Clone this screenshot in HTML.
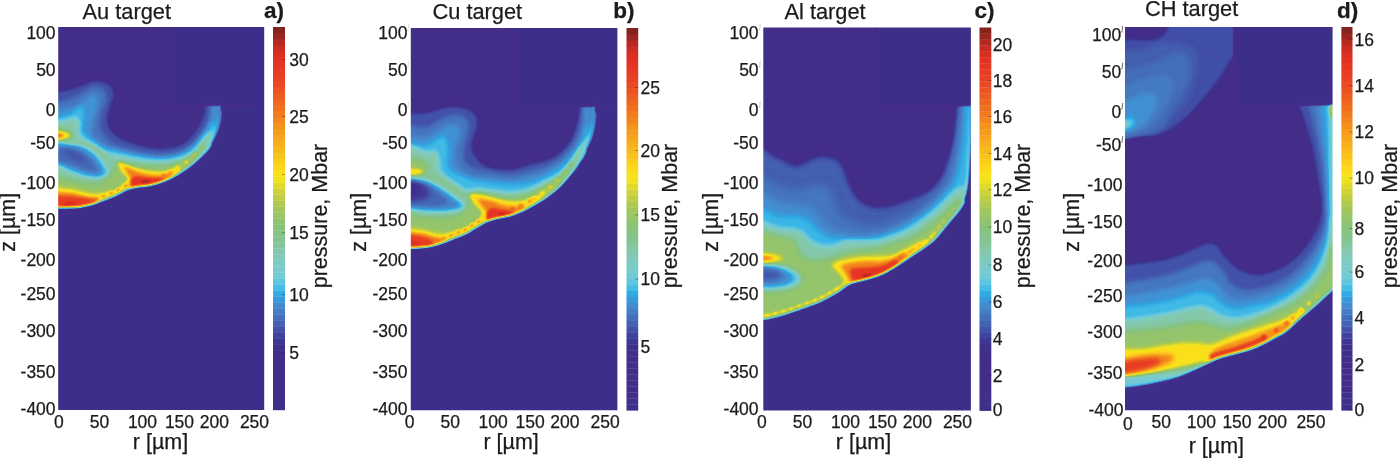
<!DOCTYPE html>
<html><head><meta charset="utf-8"><title>pressure maps</title>
<style>html,body{margin:0;padding:0;background:#fff}svg{display:block}text{font-family:'Liberation Sans',sans-serif;fill:#1d1a1b;stroke:#1d1a1b;stroke-width:0.25px}</style></head><body>
<svg width="1400" height="458" viewBox="0 0 1400 458">
<defs><filter id="cmapf" x="0" y="0" width="100%" height="100%" color-interpolation-filters="sRGB"><feComponentTransfer><feFuncR type="table" tableValues="0.243 0.245 0.247 0.249 0.250 0.252 0.254 0.256 0.259 0.261 0.264 0.266 0.269 0.270 0.267 0.265 0.262 0.259 0.256 0.253 0.248 0.243 0.247 0.250 0.252 0.254 0.256 0.258 0.261 0.266 0.267 0.267 0.271 0.274 0.271 0.267 0.245 0.220 0.191 0.192 0.225 0.275 0.334 0.378 0.418 0.447 0.467 0.476 0.485 0.493 0.500 0.507 0.514 0.518 0.518 0.518 0.518 0.519 0.522 0.525 0.528 0.535 0.546 0.562 0.578 0.596 0.619 0.641 0.664 0.689 0.717 0.744 0.772 0.805 0.844 0.882 0.917 0.947 0.969 0.983 0.988 0.988 0.987 0.985 0.983 0.981 0.978 0.975 0.973 0.970 0.968 0.966 0.965 0.963 0.962 0.959 0.956 0.952 0.949 0.946 0.943 0.940 0.938 0.936 0.934 0.932 0.929 0.926 0.923 0.920 0.918 0.915 0.912 0.910 0.906 0.902 0.898 0.892 0.876 0.860 0.844 0.803 0.761 0.713 0.662 0.613 0.571 0.528 0.490"/><feFuncG type="table" tableValues="0.184 0.184 0.183 0.182 0.182 0.181 0.181 0.180 0.179 0.179 0.178 0.178 0.177 0.177 0.178 0.179 0.181 0.182 0.184 0.185 0.187 0.188 0.200 0.212 0.236 0.265 0.293 0.322 0.353 0.386 0.415 0.443 0.468 0.494 0.520 0.547 0.575 0.604 0.635 0.671 0.712 0.743 0.769 0.778 0.786 0.792 0.797 0.798 0.799 0.799 0.797 0.795 0.793 0.790 0.785 0.780 0.775 0.772 0.770 0.768 0.766 0.765 0.765 0.768 0.771 0.774 0.777 0.780 0.783 0.789 0.799 0.809 0.819 0.831 0.843 0.856 0.871 0.887 0.891 0.885 0.869 0.849 0.828 0.808 0.788 0.767 0.747 0.727 0.707 0.687 0.667 0.650 0.632 0.614 0.596 0.575 0.549 0.525 0.504 0.484 0.463 0.443 0.423 0.404 0.384 0.364 0.343 0.323 0.303 0.287 0.274 0.261 0.248 0.236 0.225 0.215 0.205 0.195 0.189 0.183 0.177 0.172 0.167 0.160 0.154 0.147 0.142 0.137 0.133"/><feFuncB type="table" tableValues="0.541 0.541 0.541 0.541 0.541 0.541 0.541 0.541 0.540 0.540 0.539 0.538 0.538 0.537 0.538 0.539 0.539 0.540 0.541 0.542 0.543 0.545 0.561 0.576 0.597 0.620 0.640 0.659 0.680 0.702 0.719 0.736 0.754 0.772 0.791 0.810 0.834 0.856 0.876 0.892 0.906 0.900 0.886 0.868 0.851 0.833 0.818 0.804 0.791 0.774 0.753 0.732 0.711 0.686 0.657 0.627 0.597 0.571 0.548 0.526 0.503 0.485 0.470 0.448 0.426 0.404 0.384 0.364 0.343 0.320 0.296 0.271 0.246 0.221 0.196 0.170 0.147 0.127 0.112 0.102 0.098 0.098 0.100 0.103 0.106 0.109 0.110 0.110 0.110 0.110 0.110 0.110 0.110 0.110 0.110 0.110 0.110 0.110 0.112 0.114 0.116 0.119 0.122 0.125 0.128 0.130 0.132 0.134 0.136 0.137 0.137 0.137 0.137 0.137 0.137 0.137 0.137 0.137 0.137 0.137 0.137 0.137 0.137 0.134 0.129 0.124 0.121 0.118 0.118"/></feComponentTransfer></filter></defs>
<rect width="1400" height="458" fill="#fff"/>
<defs>
<clipPath id="a_clip"><rect x="58.2" y="27" width="206" height="382.9"/></clipPath>
<filter id="a_b0_8" x="-50%" y="-50%" width="200%" height="200%" color-interpolation-filters="sRGB"><feGaussianBlur stdDeviation="0.8"/></filter>
<filter id="a_b0_9" x="-50%" y="-50%" width="200%" height="200%" color-interpolation-filters="sRGB"><feGaussianBlur stdDeviation="0.9"/></filter>
<filter id="a_b2_3" x="-50%" y="-50%" width="200%" height="200%" color-interpolation-filters="sRGB"><feGaussianBlur stdDeviation="2.3"/></filter>
<filter id="a_b2_1" x="-50%" y="-50%" width="200%" height="200%" color-interpolation-filters="sRGB"><feGaussianBlur stdDeviation="2.1"/></filter>
<filter id="a_b2_0" x="-50%" y="-50%" width="200%" height="200%" color-interpolation-filters="sRGB"><feGaussianBlur stdDeviation="2"/></filter>
<filter id="a_b2_2" x="-50%" y="-50%" width="200%" height="200%" color-interpolation-filters="sRGB"><feGaussianBlur stdDeviation="2.2"/></filter>
<filter id="a_b2_5" x="-50%" y="-50%" width="200%" height="200%" color-interpolation-filters="sRGB"><feGaussianBlur stdDeviation="2.5"/></filter>
<filter id="a_b1_8" x="-50%" y="-50%" width="200%" height="200%" color-interpolation-filters="sRGB"><feGaussianBlur stdDeviation="1.8"/></filter>
<filter id="a_b1_4" x="-50%" y="-50%" width="200%" height="200%" color-interpolation-filters="sRGB"><feGaussianBlur stdDeviation="1.4"/></filter>
<filter id="a_b1_7" x="-50%" y="-50%" width="200%" height="200%" color-interpolation-filters="sRGB"><feGaussianBlur stdDeviation="1.7"/></filter>
<filter id="a_b1_6" x="-50%" y="-50%" width="200%" height="200%" color-interpolation-filters="sRGB"><feGaussianBlur stdDeviation="1.6"/></filter>
<filter id="a_b1_5" x="-50%" y="-50%" width="200%" height="200%" color-interpolation-filters="sRGB"><feGaussianBlur stdDeviation="1.5"/></filter>
<filter id="a_b1_3" x="-50%" y="-50%" width="200%" height="200%" color-interpolation-filters="sRGB"><feGaussianBlur stdDeviation="1.3"/></filter>
<filter id="a_b1_0" x="-50%" y="-50%" width="200%" height="200%" color-interpolation-filters="sRGB"><feGaussianBlur stdDeviation="1"/></filter>
<filter id="a_b1_2" x="-50%" y="-50%" width="200%" height="200%" color-interpolation-filters="sRGB"><feGaussianBlur stdDeviation="1.2"/></filter>
<filter id="a_ms" filterUnits="userSpaceOnUse" x="38.2" y="7" width="246" height="422.9" color-interpolation-filters="sRGB"><feGaussianBlur stdDeviation="0.8"/></filter>
<mask id="a_mask" maskUnits="userSpaceOnUse" x="48.2" y="17" width="226" height="402.9"><path d="M46,20L46,207L48.5,207L51,207L53.5,206.9L56,206.9L58.5,206.9L61,206.9L63.5,206.9L66,206.9L68.5,206.9L71,206.8L73.5,206.8L76,206.6L78.5,206.4L80.9,206.1L83.4,205.6L85.8,205.1L88.3,204.5L90.7,203.9L93.1,203.2L95.5,202.4L97.8,201.6L100.2,200.7L102.5,199.8L104.8,198.9L107.2,198L109.5,197.1L111.8,196.2L114.1,195.3L116.4,194.3L118.6,193.1L120.8,191.9L123,190.7L125.2,189.5L127.5,188.6L129.9,187.7L132.3,187.1L134.7,186.5L137.2,186.1L139.7,185.8L142.2,185.5L144.6,185.3L147.1,185.1L149.6,184.6L152,184.1L154.4,183.4L156.8,182.7L159.2,181.9L161.5,181L163.9,180.2L166.2,179.4L168.5,178.4L170.8,177.3L173,176.1L175.2,174.9L177.4,173.7L179.5,172.4L181.6,171.1L183.7,169.7L185.8,168.3L187.8,166.8L189.8,165.3L191.8,163.8L193.7,162.2L195.6,160.6L197.5,158.9L199.3,157.2L201.1,155.5L202.8,153.7L204.6,151.9L206.2,150L207.8,148.1L209.2,146L210.5,143.9L211.7,141.7L213,139.5L214.1,137.3L215.1,135L216.2,132.7L217.2,130.5L218.1,128.1L218.8,125.8L219.4,123.3L219.9,120.9L220.4,118.4L220.7,115.9L221,113.5L221.2,111L221.4,108.5L221.5,106L221.7,103.5L221.7,101L221.6,98.5L221.6,96L221.6,104.9L170,104.9L170,20Z" fill="#fff" stroke="#fff" stroke-width="0.6" stroke-linejoin="round" filter="url(#a_ms)"/></mask>
<linearGradient id="a_g1" gradientUnits="userSpaceOnUse" x1="46" y1="207" x2="221.6" y2="96"><stop offset="0.0000" stop-color="rgb(161,161,161)"/><stop offset="0.5492" stop-color="rgb(161,161,161)"/><stop offset="0.5908" stop-color="rgb(148,148,148)"/><stop offset="0.6463" stop-color="rgb(138,138,138)"/><stop offset="0.7057" stop-color="rgb(128,128,128)"/><stop offset="0.7630" stop-color="rgb(117,117,117)"/><stop offset="0.8116" stop-color="rgb(105,105,105)"/><stop offset="0.8506" stop-color="rgb(92,92,92)"/><stop offset="0.9035" stop-color="rgb(79,79,79)"/><stop offset="0.9418" stop-color="rgb(71,71,71)"/><stop offset="1.0000" stop-color="rgb(68,68,68)"/></linearGradient>
<linearGradient id="a_g2" gradientUnits="userSpaceOnUse" x1="46" y1="207" x2="99.6" y2="200.9"><stop offset="0.0000" stop-color="rgb(196,196,196)"/><stop offset="0.2214" stop-color="rgb(196,196,196)"/><stop offset="0.5353" stop-color="rgb(196,196,196)"/><stop offset="0.7225" stop-color="rgb(196,196,196)"/><stop offset="0.8743" stop-color="rgb(196,196,196)"/><stop offset="1.0084" stop-color="rgb(191,191,191)"/></linearGradient>
<linearGradient id="a_g3" gradientUnits="userSpaceOnUse" x1="46" y1="207" x2="96.7" y2="202"><stop offset="0.0000" stop-color="rgb(224,224,224)"/><stop offset="0.2345" stop-color="rgb(224,224,224)"/><stop offset="0.5668" stop-color="rgb(224,224,224)"/><stop offset="0.7647" stop-color="rgb(224,224,224)"/><stop offset="0.9048" stop-color="rgb(222,222,222)"/><stop offset="1.0055" stop-color="rgb(217,217,217)"/></linearGradient>
</defs>
<g clip-path="url(#a_clip)"><g filter="url(#cmapf)">
<rect x="50.2" y="19" width="222" height="398.9" fill="#000"/>
<path d="M204.6,151.9L206.2,150L207.8,148.1L209.2,146L210.5,143.9L211.7,141.7L213,139.5L214.1,137.3L215.1,135L216.2,132.7L217.2,130.5L218.1,128.1L218.8,125.8L219.4,123.3L219.9,120.9L220.4,118.4L220.7,115.9L221,113.5L221.2,111" fill="none" stroke="rgb(57,57,57)" stroke-width="4.2" stroke-linecap="butt" filter="url(#a_b0_9)"/>
<path d="M46,207L48.5,207L51,207L53.5,206.9L56,206.9L58.5,206.9L61,206.9L63.5,206.9L66,206.9L68.5,206.9L71,206.8L73.5,206.8L76,206.6L78.5,206.4L80.9,206.1L83.4,205.6L85.8,205.1L88.3,204.5L90.7,203.9L93.1,203.2L95.5,202.4L97.8,201.6L100.2,200.7L102.5,199.8L104.8,198.9L107.2,198L109.5,197.1L111.8,196.2L114.1,195.3L116.4,194.3L118.6,193.1L120.8,191.9L123,190.7L125.2,189.5L127.5,188.6L129.9,187.7L132.3,187.1L134.7,186.5L137.2,186.1L139.7,185.8L142.2,185.5L144.6,185.3L147.1,185.1L149.6,184.6L152,184.1L154.4,183.4L156.8,182.7L159.2,181.9L161.5,181L163.9,180.2L166.2,179.4L168.5,178.4L170.8,177.3L173,176.1L175.2,174.9L177.4,173.7L179.5,172.4L181.6,171.1L183.7,169.7L185.8,168.3L187.8,166.8L189.8,165.3L191.8,163.8L193.7,162.2L195.6,160.6L197.5,158.9L199.3,157.2L201.1,155.5L202.8,153.7L204.6,151.9L206.2,150L207.8,148.1L209.2,146L210.5,143.9" fill="none" stroke="rgb(76,76,76)" stroke-width="4.6" stroke-linecap="butt" filter="url(#a_b0_8)"/>
<g mask="url(#a_mask)">
<path d="M40,10L170,10L170,105L270,105L270,420L40,420Z" fill="rgb(17,17,17)"/>
<path d="M44,90C46.3,68.3 52.9,90.7 58,90C63.1,89.3 69.6,87.6 74.6,86.1C79.5,84.6 83.8,82.1 87.7,80.9C91.6,79.7 94.2,78.4 98.2,78.9C102.2,79.4 108.5,81.4 111.5,84C114.5,86.6 115.9,90.6 116,94.6C116.1,98.5 113.1,103.8 112,107.7C110.9,111.6 109.8,115.2 109.5,118.2C109.2,121.2 109.8,123.9 110.5,126C111.2,128.1 112.5,129.4 114,131C115.5,132.6 116.6,133.9 119.5,135.5C122.4,137.1 127.1,139 131.2,140.5C135.3,142 139.9,143.4 144.3,144.4C148.7,145.4 153,146.2 157.4,146.4C161.8,146.6 166.3,146.5 170.5,145.7C174.7,144.9 179.4,143.2 182.6,141.4C185.8,139.6 187.5,137.4 189.8,134.8C192.1,132.2 194.5,128.7 196.2,126C197.9,123.3 198.9,121.2 200,118.5C201.1,115.8 202,113.1 202.7,110C203.4,106.9 200.6,101.7 204,100C207.4,98.3 220.1,97 223.3,100C226.5,103 223.7,113 223.3,118C222.9,123 220.9,123.7 221,130C221.1,136.3 229.2,147 224,156C218.8,165 202.3,176.8 190,184C177.7,191.2 161.7,195 150,199C138.3,203 130,204.8 120,208C110,211.2 102.7,216 90,218C77.3,220 51.7,241.3 44,220C36.3,198.7 41.7,111.7 44,90Z" fill="rgb(54,54,54)" filter="url(#a_b2_3)"/>
<path d="M44,102.5C46.3,82.9 52.9,103.4 58,102.5C63.1,101.6 69.6,99.5 74.6,97.3C79.5,95.1 84,91.2 87.7,89.4C91.4,87.7 94.1,86.4 96.9,86.8C99.7,87.2 103.2,89.6 104.7,92C106.2,94.4 106.7,97.5 106,101.2C105.3,104.9 101.9,109.9 100.8,114.3C99.7,118.7 99.1,124 99.5,127.4C99.9,130.8 101.7,132.6 103.4,135C105.2,137.4 107.5,140.3 110,142C112.5,143.7 114.6,144.1 118.1,145.3C121.6,146.5 126.8,147.9 131.2,149C135.6,150.1 139.9,151.2 144.3,152C148.7,152.8 153,153.4 157.4,153.6C161.8,153.8 166.1,153.8 170.5,153C174.9,152.2 179.7,151 183.6,149C187.5,147 190.9,144 194,141.2C197.1,138.4 199.7,135.1 201.9,132C204.1,128.9 205.8,126.2 207.1,122.9C208.4,119.6 208.9,115.8 209.5,112C210.1,108.2 208.8,102 210.5,100C212.2,98 218.4,97 220,100C221.6,103 220.5,113 220.3,118C220.1,123 218.4,123.7 219,130C219.6,136.3 228.8,147 224,156C219.2,165 202.3,176.8 190,184C177.7,191.2 161.7,195 150,199C138.3,203 130,204.8 120,208C110,211.2 102.7,216 90,218C77.3,220 51.7,239.2 44,220C36.3,200.8 41.7,122.1 44,102.5Z" fill="rgb(64,64,64)" filter="url(#a_b2_3)"/>
<path d="M44,110.3C46.3,92 52.9,110.9 58,110.3C63.1,109.7 70.3,108.1 74.6,106.4C78.9,104.7 80.7,101.9 83.8,99.9C86.9,97.9 90.6,94.8 93,94.6C95.4,94.4 97.5,96.2 98.2,98.6C98.9,101 97.8,105.3 96.9,109C96,112.7 93.9,116.8 93,120.8C92.1,124.8 91.1,129.9 91.6,133C92.1,136.1 93.4,137.2 96,139.5C98.6,141.8 103.7,145 107.4,146.7C111.1,148.4 114.1,148.6 118.1,149.6C122.1,150.6 126.8,151.9 131.2,152.9C135.6,153.9 139.9,154.8 144.3,155.5C148.7,156.2 153,156.7 157.4,156.8C161.8,156.9 166.1,157 170.5,156.2C174.9,155.4 179.7,154.1 183.6,152.2C187.5,150.3 190.9,147.6 194,144.8C197.1,142 199.6,138.7 201.9,135.6C204.2,132.5 206.4,129.4 208,126C209.6,122.6 210.7,118.7 211.5,115C212.3,111.3 212,105.8 213,104C214,102.2 216.7,101.7 217.5,104C218.3,106.3 218.1,113.7 218,118C217.9,122.3 216,123.7 217,130C218,136.3 228.5,147 224,156C219.5,165 202.3,176.8 190,184C177.7,191.2 161.7,195 150,199C138.3,203 130,204.8 120,208C110,211.2 102.7,216 90,218C77.3,220 51.7,237.9 44,220C36.3,202.1 41.7,128.6 44,110.3Z" fill="rgb(72,72,72)" filter="url(#a_b2_1)"/>
<path d="M44,116.9C46.3,99.7 54,117.3 58,116.9C62,116.5 64.7,115.8 68.1,114.3C71.5,112.8 76.1,109 78.6,107.7C81.1,106.4 82.1,104.9 83.1,106.4C84.1,107.9 84.4,113.5 84.5,116.9C84.6,120.3 83.4,124.3 83.5,127C83.6,129.7 83.3,130.8 85.1,133.1C86.9,135.4 91,138.5 94.3,140.9C97.6,143.3 101,146 105,147.7C109,149.4 113.7,149.9 118.1,151C122.5,152.1 126.8,153.3 131.2,154.3C135.6,155.3 139.9,156.2 144.3,156.9C148.7,157.6 153,158.1 157.4,158.2C161.8,158.3 166.1,158.4 170.5,157.6C174.9,156.8 179.7,155.5 183.6,153.6C187.5,151.7 190.9,149.1 194,146.4C197.1,143.7 199.5,140.4 201.9,137.3C204.3,134.2 206.8,130.7 208.5,128.1C210.2,125.5 211,122.7 212,121.5C213,120.3 213.8,120.1 214.5,121C215.2,121.9 215.8,124.8 216,127C216.2,129.2 214.7,129.2 216,134C217.3,138.8 228.3,147.7 224,156C219.7,164.3 202.3,176.8 190,184C177.7,191.2 161.7,195 150,199C138.3,203 130,204.8 120,208C110,211.2 102.7,216 90,218C77.3,220 51.7,236.8 44,220C36.3,203.2 41.7,134.1 44,116.9Z" fill="rgb(81,81,81)" filter="url(#a_b2_0)"/>
<path d="M44,122.1C46.3,105.8 54,122.4 58,122.1C62,121.8 65.1,120.8 68.1,120.2C71.1,119.6 74.3,117.6 76,118.2C77.7,118.8 78.2,121.7 78.5,124C78.8,126.3 77.4,129.6 78,132C78.6,134.4 80,136.6 82,138.5C84,140.4 87,141.6 90,143.5C93,145.4 97.5,148.4 100,150C102.5,151.6 102,152 105,153C108,154 113.7,154.9 118.1,155.8C122.5,156.7 126.8,157.4 131.2,158.2C135.6,158.9 139.9,159.8 144.3,160.3C148.7,160.9 153,161.4 157.4,161.5C161.8,161.6 166.1,161.5 170.5,160.8C174.9,160.2 179.7,159.1 183.6,157.6C187.5,156.1 190.9,154.2 194,151.7C197.1,149.2 199.9,145 201.9,142.5C203.9,140 204.2,137.8 206,136.5C207.8,135.2 210,131.2 213,134.5C216,137.8 227.8,147.8 224,156C220.2,164.2 202.3,176.8 190,184C177.7,191.2 161.7,195 150,199C138.3,203 130,204.8 120,208C110,211.2 102.7,216 90,218C77.3,220 51.7,236 44,220C36.3,204 41.7,138.4 44,122.1Z" fill="rgb(107,107,107)" filter="url(#a_b2_2)"/>
<path d="M44,176.5C46.3,169.2 52.9,175.8 58,176.5C63.1,177.2 68.5,179.4 74.6,180.5C80.6,181.6 89.2,183.1 94.3,183C99.4,182.9 102,181.8 105,180C108,178.2 110.2,174.7 112,172C113.8,169.3 114.3,165.8 116,164C117.7,162.2 119.5,161.6 122,161.5C124.5,161.4 127.3,162.8 131,163.5C134.7,164.2 139.9,165.2 144.3,165.5C148.7,165.8 153,165.6 157.4,165.4C161.8,165.2 166.1,165.1 170.5,164.3C174.9,163.5 179.7,162.4 183.6,160.8C187.5,159.2 191.1,157.2 194,155C196.9,152.8 199.2,149.7 201,147.5C202.8,145.3 203,143.2 205,142C207,140.8 209.8,137.7 213,140C216.2,142.3 227.8,148.7 224,156C220.2,163.3 202.3,176.8 190,184C177.7,191.2 161.7,195 150,199C138.3,203 130,204.8 120,208C110,211.2 102.7,216 90,218C77.3,220 51.7,226.9 44,220C36.3,213.1 41.7,183.8 44,176.5Z" fill="rgb(128,128,128)" filter="url(#a_b2_5)"/>
<ellipse cx="57" cy="135.3" rx="17" ry="7.2" fill="rgb(128,128,128)" filter="url(#a_b2_2)"/>
<path d="M44,142.3C46.3,138.4 53.7,142.2 58,142.3C62.3,142.4 66.1,142.4 70,142.8C73.9,143.2 77.2,142.9 81.2,144.6C85.2,146.2 91,150.1 94.3,152.7C97.6,155.3 99.3,157.7 101,160C102.7,162.3 103.6,164.4 104.7,166.5C105.8,168.6 107.9,170.7 107.4,172.4C107,174.2 104.2,176.1 102,177C99.8,177.9 97.6,178 94.3,177.8C91,177.6 86,177.1 82,176C78,174.9 74,173.2 70,171.5C66,169.8 62.3,166.5 58,165.5C53.7,164.5 46.3,169.4 44,165.5C41.7,161.6 41.7,146.2 44,142.3Z" fill="rgb(81,81,81)" filter="url(#a_b1_8)"/>
<path d="M44,145.5C46.3,142.6 53.7,145.4 58,145.5C62.3,145.6 66.2,145.5 70,146C73.8,146.5 77.5,147 81,148.5C84.5,150 88.2,152.6 91,155C93.8,157.4 96.1,160.4 98,163C99.9,165.6 102.2,168.7 102.5,170.5C102.8,172.3 101.6,173.3 100,174C98.4,174.7 96,174.9 93,174.5C90,174.1 85.8,173 82,171.8C78.2,170.6 74,169 70,167.5C66,166 62.3,163.8 58,163C53.7,162.2 46.3,165.9 44,163C41.7,160.1 41.7,148.4 44,145.5Z" fill="rgb(67,67,67)" filter="url(#a_b2_0)"/>
<path d="M44,148.5C46.3,146.6 53.7,148.4 58,148.5C62.3,148.6 66.3,148.7 70,149.3C73.7,149.9 76.9,150.8 80,152.3C83.1,153.8 86.1,156.2 88.5,158.5C90.9,160.8 93.2,164 94.5,166C95.8,168 96.9,169.7 96.5,170.5C96.1,171.3 94.4,171.4 92,171C89.6,170.6 85.7,169 82,167.8C78.3,166.6 74,165 70,163.7C66,162.4 62.3,160.6 58,160C53.7,159.4 46.3,161.9 44,160C41.7,158.1 41.7,150.4 44,148.5Z" fill="rgb(59,59,59)" filter="url(#a_b2_0)"/>
<ellipse cx="74.5" cy="155.5" rx="12" ry="3.4" fill="rgb(54,54,54)" transform="rotate(30 74.5 155.5)" filter="url(#a_b2_0)"/>
<path d="M66,140.5C68.7,140.9 77.3,141.9 82,143.2C86.7,144.5 90.1,145.6 94.3,148.1C98.5,150.6 104,155.4 107.4,158C110.8,160.6 113.3,162.8 114.5,163.8" fill="none" stroke="rgb(110,110,110)" stroke-width="4.5" stroke-linecap="round" stroke-linejoin="round" filter="url(#a_b1_8)"/>
<path d="M46,213L49.1,213L52.1,213L55.1,212.9L58.1,212.9L61.1,212.9L64.1,212.9L67.2,212.9L70.2,212.8L73.4,212.8L76.6,212.6L79.9,212.3L83.2,211.8L86.4,211.1L89.5,210.4L92.6,209.6L95.7,208.7L98.7,207.7L101.7,206.6L104.5,205.5L107.3,204.4L110.2,203.3L113,202.2L116,201L111.6,190.7L108.8,191.5L105.9,192.2L102.9,192.9L99.8,193.3L96.8,193.5L93.8,193.6L90.8,193.3L87.8,192.7L84.9,192L82.1,191.1L79.5,190.6L77.1,189.9L74.8,189.1L72.4,188.6L69.8,188.4L67,188.2L64.1,187.9L61,187.7L57.9,187.4L54.9,187.4L51.9,187.5L48.9,187.5L45.9,187.5Z" fill="rgb(158,158,158)" filter="url(#a_b2_0)"/>
<path d="M46,213L49.1,213L52.1,213L55.1,212.9L58.1,212.9L61.1,212.9L64.1,212.9L67.2,212.9L70.2,212.8L73.4,212.8L76.6,212.6L79.9,212.3L83.2,211.8L86.4,211.1L89.5,210.4L92.6,209.6L95.7,208.7L98.7,207.7L101.7,206.6L104.5,205.5L107.3,204.4L110.2,203.3L113,202.2L116,201L119,199.7L121.9,198.2L124.6,196.6L127,195.3L129.3,194.3L131.8,193.4L134.2,192.7L136.8,192.2L139.6,191.9L142.4,191.5L145.4,191.3L148.7,190.9L152.1,190.2L155.3,189.4L158.4,188.5L161.5,187.5L164.3,186.4L167.2,185.4L170.3,184.2L173.4,182.7L176.1,181.2L178.9,179.7L181.6,178.1L184.3,176.5L187,174.7L189.6,172.9L192.2,171.1L194.7,169.1L197.2,167.1L199.6,165.1L201.9,163L204.2,160.8L206.5,158.6L208.7,156.2L210.9,153.7L213,151L214.9,148.2L216.5,145.4L218.1,142.6L219.6,139.7L220.9,136.9L222.2,134L223.5,130.9L224.5,127.6L225.3,124.3L226,121.1L226.5,117.9L226.9,114.7L227.2,111.6L227.4,108.5L227.6,105.3L227.7,102.1L227.7,98.9L227.6,95.9L217.6,96.1L217.7,99.1L217.7,102L217.6,104.9L217.4,107.8L217.2,110.7L216.9,113.7L216.6,116.5L216,119.3L215.3,122.1L214.5,124.7L213.6,127.3L212.4,129.7L211.1,132.3L209.8,135L208.4,137.5L206.9,139.8L205.3,142.2L203.7,144.3L201.9,146.2L199.8,148.1L197.7,149.9L195.5,151.7L193.2,153.5L190.9,155.2L188.6,156.9L186.3,158.5L184.1,160.3L181.8,161.9L179.5,163.5L177.2,165.1L174.9,166.8L172.6,168.5L170.2,170.1L167.8,171.8L165.7,173.5L163.4,175L160.6,176.2L157.8,177.3L155.1,178.2L152.4,179L149.7,179.7L147.1,180.2L144.3,180.5L141.3,180.8L138.2,181.2L135,181.6L131.7,182.2L128.5,183.1L125.3,184.3L122.2,185.6L119.4,187.2L116.8,188.7L114.3,189.9L111.8,191.1L109.1,192.1L106.3,193.2L103.5,194.3L100.7,195.4L97.9,196.5L95.1,197.5L92.4,198.4L89.7,199.2L86.9,199.9L84.1,200.6L81.3,201.1L78.6,201.5L75.8,201.8L73,202L70.1,202L67.1,202.1L64.1,202.1L61.1,202.1L58,202.1L55,202.1L52,202.2L49,202.2L46,202.2Z" fill="url(#a_g1)" filter="url(#a_b1_4)"/>
<path d="M117.6,162.3C118.2,161.1 122.5,163.5 125,164.3C127.5,165.1 129.7,166 132.9,166.9C136.1,167.8 140.6,169.2 144.4,170C148.2,170.8 152.7,171.2 155.9,171.5C159.1,171.8 161.2,171.8 163.5,171.5C165.8,171.2 167.9,170.5 170,170C172.1,169.5 174.2,168.2 176,168.6C177.8,169 182.8,169.9 181,172.5C179.2,175.1 170.2,181.1 165,184C159.8,186.9 155,188.8 150,190C145,191.2 139.3,190.7 135,191C130.7,191.3 126.1,192.8 124,192C121.9,191.2 121.9,188.3 122.5,186C123.1,183.7 127.8,180.7 127.6,178.3C127.4,175.9 123.2,174.2 121.5,171.5C119.8,168.8 117,163.5 117.6,162.3Z" fill="rgb(161,161,161)" filter="url(#a_b1_7)"/>
<path d="M46,213L49.1,213L52.1,213L55.1,212.9L58.1,212.9L61.1,212.9L64.1,212.9L67.2,212.9L70.2,212.8L73.4,212.8L76.6,212.6L79.9,212.3L83.2,211.8L86.4,211.1L89.5,210.4L92.6,209.6L95.7,208.7L98.7,207.7L101.7,206.6L98.3,197.5L95.1,197.3L92,197.1L88.9,196.7L86,196.2L83.1,195.5L80.3,195L77.7,194.4L75.2,193.5L72.6,193.1L69.9,193L67,192.8L64.1,192.5L61,192.3L58,192.1L54.9,192.1L51.9,192.2L48.9,192.2L45.9,192.2Z" fill="url(#a_g2)" filter="url(#a_b1_6)"/>
<path d="M124.9,166.9C125.3,166.2 128,168 130,168.8C132,169.6 133.8,170.6 136.8,171.5C139.8,172.4 144.4,173.9 148.2,174.5C152,175.1 156.9,175.3 159.7,175.3C162.5,175.3 163.3,174.9 165,174.5C166.7,174.1 168.3,171.8 170,172.7C171.7,173.6 178.3,177.1 175,180C171.7,182.9 157.3,188 150,190C142.7,192 134.4,192.7 131,192C127.6,191.3 129.6,188.2 129.5,186C129.4,183.8 130.9,181.3 130.6,179.1C130.3,176.9 128.4,175 127.5,173C126.5,171 124.5,167.6 124.9,166.9Z" fill="rgb(196,196,196)" filter="url(#a_b1_5)"/>
<path d="M46,213L49.1,213L52.1,213L55.1,212.9L58.1,212.9L61.1,212.9L64.1,212.9L67.2,212.9L70.2,212.8L73.4,212.8L76.6,212.6L79.9,212.3L83.2,211.8L86.4,211.1L89.5,210.4L92.6,209.6L95.7,208.7L98.7,207.7L95.9,199.5L92.7,199.4L89.6,199.1L86.6,198.6L83.6,198L80.8,197.8L78.1,197.4L75.4,196.9L72.8,196.7L70,196.6L67.1,196.5L64.1,196.3L61.1,196.1L58,196L55,196L51.9,196.1L48.9,196.1L45.9,196.1Z" fill="url(#a_g3)" filter="url(#a_b1_4)"/>
<path d="M131,181C131.2,179.8 132,178.3 133,177.5C134,176.7 134.9,176.5 136.8,176.4C138.7,176.3 141.2,176.9 144.4,177.2C147.6,177.5 153.1,177.8 155.9,178C158.7,178.2 159.3,177.7 161,178.3C162.7,178.9 167.8,179.6 166,181.5C164.2,183.4 155.5,188.2 150,190C144.5,191.8 136.1,192.8 133,192C129.9,191.2 131.8,186.8 131.5,185C131.2,183.2 130.8,182.2 131,181Z" fill="rgb(230,230,230)" filter="url(#a_b1_3)"/>
<g filter="url(#a_b0_8)"><circle cx="96" cy="199.1" r="1.5" fill="rgb(204,204,204)"/><circle cx="103.6" cy="196.2" r="1.5" fill="rgb(204,204,204)"/><circle cx="111.2" cy="193.2" r="1.5" fill="rgb(204,204,204)"/><circle cx="118.2" cy="189.9" r="1.5" fill="rgb(204,204,204)"/><circle cx="125.9" cy="186" r="1.5" fill="rgb(204,204,204)"/></g>
<g filter="url(#a_b0_8)"><circle cx="163.6" cy="175.6" r="1.8" fill="rgb(204,204,204)"/><circle cx="170.9" cy="172.2" r="1.8" fill="rgb(189,189,189)"/></g>
<g filter="url(#a_b0_9)"><circle cx="177.2" cy="168.2" r="2.1" fill="rgb(168,168,168)"/><circle cx="186.3" cy="162" r="2.1" fill="rgb(156,156,156)"/><circle cx="194.7" cy="154.9" r="2.1" fill="rgb(144,144,144)"/><circle cx="202.3" cy="147.1" r="2.1" fill="rgb(133,133,133)"/></g>
<ellipse cx="70" cy="203.5" rx="7.5" ry="1.2" fill="rgb(249,249,249)" filter="url(#a_b1_0)"/>
<ellipse cx="145.2" cy="181.4" rx="5.2" ry="1.2" fill="rgb(255,255,255)" transform="rotate(-3 145.2 181.4)" filter="url(#a_b0_9)"/>
<ellipse cx="57" cy="135.5" rx="12.5" ry="4.4" fill="rgb(161,161,161)" filter="url(#a_b1_4)"/>
<ellipse cx="56" cy="135.5" rx="7" ry="2.5" fill="rgb(199,199,199)" filter="url(#a_b1_2)"/>
</g></g></g>
<defs>
<clipPath id="b_clip"><rect x="410.8" y="28" width="206.6" height="382.3"/></clipPath>
<filter id="b_b0_8" x="-50%" y="-50%" width="200%" height="200%" color-interpolation-filters="sRGB"><feGaussianBlur stdDeviation="0.8"/></filter>
<filter id="b_b0_9" x="-50%" y="-50%" width="200%" height="200%" color-interpolation-filters="sRGB"><feGaussianBlur stdDeviation="0.9"/></filter>
<filter id="b_b2_3" x="-50%" y="-50%" width="200%" height="200%" color-interpolation-filters="sRGB"><feGaussianBlur stdDeviation="2.3"/></filter>
<filter id="b_b2_1" x="-50%" y="-50%" width="200%" height="200%" color-interpolation-filters="sRGB"><feGaussianBlur stdDeviation="2.1"/></filter>
<filter id="b_b2_0" x="-50%" y="-50%" width="200%" height="200%" color-interpolation-filters="sRGB"><feGaussianBlur stdDeviation="2"/></filter>
<filter id="b_b2_2" x="-50%" y="-50%" width="200%" height="200%" color-interpolation-filters="sRGB"><feGaussianBlur stdDeviation="2.2"/></filter>
<filter id="b_b2_5" x="-50%" y="-50%" width="200%" height="200%" color-interpolation-filters="sRGB"><feGaussianBlur stdDeviation="2.5"/></filter>
<filter id="b_b1_8" x="-50%" y="-50%" width="200%" height="200%" color-interpolation-filters="sRGB"><feGaussianBlur stdDeviation="1.8"/></filter>
<filter id="b_b1_4" x="-50%" y="-50%" width="200%" height="200%" color-interpolation-filters="sRGB"><feGaussianBlur stdDeviation="1.4"/></filter>
<filter id="b_b1_7" x="-50%" y="-50%" width="200%" height="200%" color-interpolation-filters="sRGB"><feGaussianBlur stdDeviation="1.7"/></filter>
<filter id="b_b1_6" x="-50%" y="-50%" width="200%" height="200%" color-interpolation-filters="sRGB"><feGaussianBlur stdDeviation="1.6"/></filter>
<filter id="b_b1_5" x="-50%" y="-50%" width="200%" height="200%" color-interpolation-filters="sRGB"><feGaussianBlur stdDeviation="1.5"/></filter>
<filter id="b_b1_3" x="-50%" y="-50%" width="200%" height="200%" color-interpolation-filters="sRGB"><feGaussianBlur stdDeviation="1.3"/></filter>
<filter id="b_b1_1" x="-50%" y="-50%" width="200%" height="200%" color-interpolation-filters="sRGB"><feGaussianBlur stdDeviation="1.1"/></filter>
<filter id="b_ms" filterUnits="userSpaceOnUse" x="390.8" y="8" width="246.6" height="422.3" color-interpolation-filters="sRGB"><feGaussianBlur stdDeviation="0.8"/></filter>
<mask id="b_mask" maskUnits="userSpaceOnUse" x="400.8" y="18" width="226.6" height="402.3"><path d="M398,20L398,247.3L400.5,247.3L403,247.3L405.5,247.3L408,247.2L410.5,247.2L413,247.2L415.5,247.1L418,247L420.5,246.8L423,246.5L425.5,246.3L428,246L430.4,245.5L432.9,245L435.3,244.4L437.7,243.7L440.1,242.9L442.5,242.1L444.8,241.3L447.2,240.4L449.5,239.5L451.8,238.5L454.1,237.5L456.4,236.6L458.8,235.8L461.1,234.9L463.5,233.9L465.7,232.9L467.9,231.7L470.1,230.4L472.2,229.1L474.3,227.7L476.5,226.5L478.6,225.2L480.8,223.9L483,222.7L485.2,221.5L487.4,220.4L489.8,219.5L492.2,218.8L494.6,218.1L497,217.5L499.4,216.9L501.9,216.4L504.3,216L506.8,215.5L509.2,215L511.6,214.3L514,213.5L516.4,212.6L518.7,211.7L521,210.8L523.3,209.7L525.5,208.6L527.8,207.4L530,206.3L532.2,205.1L534.3,203.8L536.5,202.6L538.7,201.3L540.8,200L542.9,198.7L545,197.3L547,195.8L549,194.3L551,192.8L553,191.3L555,189.8L556.9,188.1L558.8,186.5L560.5,184.7L562.2,182.9L563.9,181L565.6,179.1L567.2,177.2L568.8,175.3L570.4,173.4L572,171.5L573.6,169.5L575.1,167.5L576.5,165.4L577.9,163.3L579.2,161.2L580.5,159.1L581.8,156.9L583,154.7L584.2,152.5L585.3,150.3L586.4,148L587.5,145.8L588.6,143.5L589.7,141.3L590.6,139L591.5,136.6L592.3,134.2L592.9,131.8L593.5,129.4L594,126.9L594.4,124.5L594.7,122L595,119.5L595.2,117L595.4,114.5L595.6,112L595.7,109.5L595.8,107L595.8,104.5L595.9,102L595.8,99.5L595.8,97L595.8,106L519.6,106L519.6,20Z" fill="#fff" stroke="#fff" stroke-width="0.6" stroke-linejoin="round" filter="url(#b_ms)"/></mask>
<linearGradient id="b_g1" gradientUnits="userSpaceOnUse" x1="398" y1="247.3" x2="595.8" y2="97"><stop offset="0.0000" stop-color="rgb(161,161,161)"/><stop offset="0.5231" stop-color="rgb(161,161,161)"/><stop offset="0.5691" stop-color="rgb(148,148,148)"/><stop offset="0.6179" stop-color="rgb(138,138,138)"/><stop offset="0.6704" stop-color="rgb(128,128,128)"/><stop offset="0.7299" stop-color="rgb(117,117,117)"/><stop offset="0.7819" stop-color="rgb(107,107,107)"/><stop offset="0.8457" stop-color="rgb(94,94,94)"/><stop offset="0.8953" stop-color="rgb(82,82,82)"/><stop offset="0.9413" stop-color="rgb(74,74,74)"/><stop offset="1.0000" stop-color="rgb(69,69,69)"/></linearGradient>
<linearGradient id="b_g2" gradientUnits="userSpaceOnUse" x1="398" y1="247.3" x2="445.1" y2="241.2"><stop offset="0.0000" stop-color="rgb(196,196,196)"/><stop offset="0.2715" stop-color="rgb(196,196,196)"/><stop offset="0.5658" stop-color="rgb(196,196,196)"/><stop offset="0.7579" stop-color="rgb(196,196,196)"/><stop offset="0.9096" stop-color="rgb(194,194,194)"/><stop offset="1.0187" stop-color="rgb(191,191,191)"/></linearGradient>
<linearGradient id="b_g3" gradientUnits="userSpaceOnUse" x1="398" y1="247.3" x2="433.7" y2="244.8"><stop offset="0.0000" stop-color="rgb(224,224,224)"/><stop offset="0.3622" stop-color="rgb(224,224,224)"/><stop offset="0.6695" stop-color="rgb(224,224,224)"/><stop offset="0.8942" stop-color="rgb(224,224,224)"/><stop offset="1.0640" stop-color="rgb(219,219,219)"/></linearGradient>
</defs>
<g clip-path="url(#b_clip)"><g filter="url(#cmapf)">
<rect x="402.8" y="20" width="222.6" height="398.3" fill="#000"/>
<path d="M580.5,159.1L581.8,156.9L583,154.7L584.2,152.5L585.3,150.3L586.4,148L587.5,145.8L588.6,143.5L589.7,141.3L590.6,139L591.5,136.6L592.3,134.2L592.9,131.8L593.5,129.4L594,126.9L594.4,124.5L594.7,122L595,119.5L595.2,117L595.4,114.5L595.6,112" fill="none" stroke="rgb(57,57,57)" stroke-width="4.2" stroke-linecap="butt" filter="url(#b_b0_9)"/>
<path d="M398,247.3L400.5,247.3L403,247.3L405.5,247.3L408,247.2L410.5,247.2L413,247.2L415.5,247.1L418,247L420.5,246.8L423,246.5L425.5,246.3L428,246L430.4,245.5L432.9,245L435.3,244.4L437.7,243.7L440.1,242.9L442.5,242.1L444.8,241.3L447.2,240.4L449.5,239.5L451.8,238.5L454.1,237.5L456.4,236.6L458.8,235.8L461.1,234.9L463.5,233.9L465.7,232.9L467.9,231.7L470.1,230.4L472.2,229.1L474.3,227.7L476.5,226.5L478.6,225.2L480.8,223.9L483,222.7L485.2,221.5L487.4,220.4L489.8,219.5L492.2,218.8L494.6,218.1L497,217.5L499.4,216.9L501.9,216.4L504.3,216L506.8,215.5L509.2,215L511.6,214.3L514,213.5L516.4,212.6L518.7,211.7L521,210.8L523.3,209.7L525.5,208.6L527.8,207.4L530,206.3L532.2,205.1L534.3,203.8L536.5,202.6L538.7,201.3L540.8,200L542.9,198.7L545,197.3L547,195.8L549,194.3L551,192.8L553,191.3L555,189.8L556.9,188.1L558.8,186.5L560.5,184.7L562.2,182.9L563.9,181L565.6,179.1L567.2,177.2L568.8,175.3L570.4,173.4L572,171.5L573.6,169.5L575.1,167.5L576.5,165.4L577.9,163.3L579.2,161.2L580.5,159.1L581.8,156.9L583,154.7L584.2,152.5L585.3,150.3" fill="none" stroke="rgb(76,76,76)" stroke-width="4.6" stroke-linecap="butt" filter="url(#b_b0_8)"/>
<g mask="url(#b_mask)">
<path d="M390,10L519.6,10L519.6,106L625,106L625,420L390,420Z" fill="rgb(17,17,17)"/>
<path d="M396,111.5C398.4,86.8 405.6,111.6 410.7,111.5C415.8,111.4 421.3,111.6 426.3,110.8C431.3,110 436.2,107.6 440.5,106.5C444.8,105.4 447.6,104.4 451.9,104.4C456.2,104.4 461.8,104.9 466.1,106.5C470.4,108.1 475.3,110.8 477.5,114C479.7,117.2 479.8,121.5 479.4,125.6C479,129.7 476.1,134.6 475.2,138.4C474.3,142.2 473.3,145.2 473.8,148.3C474.3,151.4 476.3,154.4 478,156.8C479.7,159.2 481.2,161.4 484,163C486.8,164.6 490.3,165.8 495,166.5C499.7,167.2 506.2,168.2 512,167.5C517.8,166.8 524.6,163.5 530,162.1C535.4,160.7 539.7,160.4 544.2,158.8C548.7,157.2 553.5,154.9 557,152.5C560.5,150.1 562.9,146.9 565,144.5C567.1,142.1 568.2,140.4 569.5,138C570.8,135.6 571.9,133 573,130C574.1,127 575.2,123.8 576,119.8C576.8,115.8 577.6,109.6 578,106C578.4,102.4 575.4,99.3 578.5,98C581.6,96.7 593.5,94.4 596.5,98C599.5,101.6 596.6,114.3 596.3,119.8C596,125.2 595.2,127.1 594.5,130.7C593.8,134.3 591.4,136.7 592.3,141.6C593.2,146.5 602.4,152.6 600,160C597.6,167.4 586.3,177.8 578,186C569.7,194.2 560.3,202.3 550,209C539.7,215.7 527.7,221 516,226C504.3,231 491,235 480,239C469,243 464,246.5 450,250C436,253.5 405,283.1 396,260C387,236.9 393.6,136.2 396,111.5Z" fill="rgb(54,54,54)" filter="url(#b_b2_3)"/>
<path d="M396,126C398.4,103.7 405.6,125.8 410.7,126C415.8,126.2 421.8,128.1 426.3,127.3C430.8,126.5 433.7,123.2 437.7,121.3C441.7,119.3 446.6,116.5 450.5,115.6C454.4,114.6 458.2,114.6 461,115.6C463.8,116.5 466.3,118.6 467.5,121.3C468.7,124 468.6,127.6 468.2,131.5C467.8,135.4 465.6,140.4 464.8,144.5C464,148.6 463,152.8 463.3,156C463.6,159.2 464.4,161.8 466.5,164C468.6,166.2 471.2,168 476,169.5C480.8,171 489,172.2 495,173C501,173.8 506.2,174.9 512,174.5C517.8,174.1 524.6,171.8 530,170.5C535.4,169.2 539.5,168.4 544.2,166.5C548.9,164.6 554.4,161.9 558.4,159.2C562.4,156.4 565.4,152.9 568,150C570.6,147.1 572.2,145.2 574,142C575.8,138.8 577.3,134.4 578.5,130.7C579.7,127 580.3,123.9 581,119.8C581.7,115.7 582.2,109.6 582.5,106C582.8,102.4 580.7,99.3 582.5,98C584.3,96.7 591.7,94.4 593.5,98C595.3,101.6 593.6,114.3 593.3,119.8C593,125.2 592.3,127.3 591.8,130.7C591.2,134.1 588.6,135.1 590,140C591.4,144.9 602,152.3 600,160C598,167.7 586.3,177.8 578,186C569.7,194.2 560.3,202.3 550,209C539.7,215.7 527.7,221 516,226C504.3,231 491,235 480,239C469,243 464,246.5 450,250C436,253.5 405,280.7 396,260C387,239.3 393.6,148.3 396,126Z" fill="rgb(64,64,64)" filter="url(#b_b2_3)"/>
<path d="M396,136.9C398.4,116.4 405.6,136.8 410.7,136.9C415.8,137 421.8,138.5 426.3,137.6C430.8,136.7 433.9,133.4 437.7,131.3C441.5,129.2 445.7,125.7 449,124.9C452.3,124.1 455.8,124.5 457.6,126.3C459.4,128.1 460.1,131.8 459.7,135.5C459.3,139.2 456.2,144.2 455.4,148.3C454.6,152.4 454.3,156.7 454.7,160C455.1,163.3 455.8,165.6 458,168C460.2,170.4 465,173 468,174.5C471,176 471.5,176.3 476,177C480.5,177.7 489,178 495,178.5C501,179 506.2,180.3 512,180C517.8,179.7 524.6,177.9 530,176.5C535.4,175.1 539.5,173.8 544.2,171.7C548.9,169.6 554.3,167.1 558.4,164.2C562.5,161.3 566,157.7 569,154.5C572,151.3 574.4,148.4 576.5,145C578.6,141.6 580.2,137.8 581.5,134C582.8,130.2 583.4,126.3 584,122C584.6,117.7 583.9,110.3 585,108C586.1,105.7 589.6,105.7 590.5,108C591.4,110.3 590.7,118 590.5,122C590.3,126 589.8,129 589.5,132C589.2,135 586.8,135.3 588.5,140C590.2,144.7 601.8,152.3 600,160C598.2,167.7 586.3,177.8 578,186C569.7,194.2 560.3,202.3 550,209C539.7,215.7 527.7,221 516,226C504.3,231 491,235 480,239C469,243 464,246.5 450,250C436,253.5 405,278.9 396,260C387,241.2 393.6,157.4 396,136.9Z" fill="rgb(72,72,72)" filter="url(#b_b2_1)"/>
<path d="M396,144C398.4,124.7 405.6,143.9 410.7,144C415.8,144.1 422.2,145.4 426.3,144.7C430.4,144 432.9,141.3 435.5,139.8C438.1,138.3 439.9,135.3 441.9,135.5C443.9,135.7 446.4,138.1 447.6,141.2C448.8,144.3 448.9,150.2 449,154C449.1,157.8 447.5,161.2 448,164C448.5,166.8 449.7,169.1 452,171C454.3,172.9 457.8,174.1 461.8,175.6C465.8,177.1 470.5,178.7 476,179.9C481.5,181.1 489,182 495,182.7C501,183.4 506.2,184 512,184C517.8,184 524.6,183.8 530,182.6C535.4,181.4 539.5,179.2 544.2,176.9C548.9,174.7 554.1,172.2 558.4,169.1C562.6,166 566.4,162.1 569.7,158.4C573,154.7 576.1,150.2 578.2,147.1C580.3,144 581.4,142.7 582.5,140C583.6,137.3 584.3,133.5 585,131C585.7,128.5 586,126 586.5,125C587,124 588,123.8 588.3,125C588.6,126.2 588.4,129.5 588.3,132C588.2,134.5 585.5,135.3 587.5,140C589.5,144.7 601.6,152.3 600,160C598.4,167.7 586.3,177.8 578,186C569.7,194.2 560.3,202.3 550,209C539.7,215.7 527.7,221 516,226C504.3,231 491,235 480,239C469,243 464,246.5 450,250C436,253.5 405,277.7 396,260C387,242.3 393.6,163.3 396,144Z" fill="rgb(81,81,81)" filter="url(#b_b2_0)"/>
<path d="M396,152.6C401.1,134.7 419.6,152.6 426.3,152.6C433,152.6 434.3,150.9 436.3,152.6C438.3,154.3 437.8,159.8 438.4,163C439,166.2 438.6,169.4 440,172C441.4,174.6 444.6,176.5 447,178.5C449.4,180.5 451.5,182.2 454.7,184.2C457.9,186.2 461.9,189.5 466.1,190.5C470.3,191.5 475.2,189.8 480,190C484.8,190.2 489.7,191 495,191.5C500.3,192 506.2,193.3 512,193C517.8,192.7 524.6,191.3 530,189.6C535.4,187.9 539.5,184.9 544.2,182.6C548.9,180.2 554.1,178.3 558.4,175.5C562.6,172.7 566.6,168.8 569.7,165.5C572.8,162.2 574.9,158.6 576.8,155.6C578.7,152.6 579.1,149.3 581,147.5C582.9,145.7 584.8,142.9 588,145C591.2,147.1 601.7,153.2 600,160C598.3,166.8 586.3,177.8 578,186C569.7,194.2 560.3,202.3 550,209C539.7,215.7 527.7,221 516,226C504.3,231 491,235 480,239C469,243 464,246.5 450,250C436,253.5 405,276.2 396,260C387,243.8 390.9,170.5 396,152.6Z" fill="rgb(107,107,107)" filter="url(#b_b2_2)"/>
<path d="M396,216.8C401,209.6 417.4,216.9 426,216.8C434.6,216.8 441.6,217.1 447.6,216.5C453.6,215.9 458.5,214.9 461.8,213C465.1,211.1 466.3,207.8 467.5,205C468.7,202.2 467.9,198.7 469,196.5C470.1,194.3 471.9,192.8 474,192C476.1,191.2 478.3,191.6 481.8,192C485.3,192.4 490,193.8 495,194.5C500,195.2 506.2,196.8 512,196.5C517.8,196.2 524.6,194.8 530,193C535.4,191.2 539.5,188.3 544.2,186C548.9,183.7 554.4,181.7 558.4,179C562.4,176.3 565.4,173 568,170C570.6,167 572.2,163.8 574,161C575.8,158.2 577,154.8 579,153C581,151.2 582.5,148.8 586,150C589.5,151.2 601.3,154 600,160C598.7,166 586.3,177.8 578,186C569.7,194.2 560.3,202.3 550,209C539.7,215.7 527.7,221 516,226C504.3,231 491,235 480,239C469,243 464,246.5 450,250C436,253.5 405,265.5 396,260C387,254.5 391,224 396,216.8Z" fill="rgb(128,128,128)" filter="url(#b_b2_5)"/>
<ellipse cx="408" cy="167.5" rx="21" ry="9.5" fill="rgb(128,128,128)" filter="url(#b_b2_5)"/>
<path d="M396,177.8C398.4,172.5 405.6,177.5 410.7,177.8C415.8,178.2 421.3,178.4 426.3,179.9C431.3,181.4 435.8,184.2 440.5,187C445.2,189.8 450.9,194.1 454.7,196.9C458.5,199.7 462,202 463.2,204C464.4,206 464.4,207.7 461.8,209C459.2,210.3 453.5,211.3 447.6,211.8C441.7,212.3 432.5,212.2 426.3,211.8C420.1,211.5 415.8,210 410.7,209.7C405.6,209.3 398.4,215 396,209.7C393.6,204.4 393.6,183.1 396,177.8Z" fill="rgb(81,81,81)" filter="url(#b_b1_8)"/>
<path d="M396,179.9C398.4,175.3 405.6,179.4 410.7,179.9C415.8,180.4 421.3,180.9 426.3,182.7C431.3,184.5 436,187.7 440.5,190.5C445,193.3 450.2,197.3 453.3,199.8C456.4,202.3 459.9,204 459,205.5C458.1,207 453.1,208.4 447.6,209C442.2,209.6 432.5,209.2 426.3,209C420.1,208.8 415.8,207.8 410.7,207.6C405.6,207.4 398.4,212.2 396,207.6C393.6,203 393.6,184.5 396,179.9Z" fill="rgb(68,68,68)" filter="url(#b_b1_8)"/>
<path d="M396,181C398.4,177.1 405.6,180.2 410.7,181C415.8,181.8 421.8,183.7 426.3,185.6C430.8,187.5 434.1,190.1 437.7,192.7C441.2,195.3 447.1,199.1 447.6,201.2C448.1,203.3 444.1,204.8 440.5,205.5C436.9,206.2 431.3,205.6 426.3,205.5C421.3,205.4 415.8,204.8 410.7,204.7C405.6,204.6 398.4,208.6 396,204.7C393.6,200.8 393.6,184.9 396,181Z" fill="rgb(59,59,59)" filter="url(#b_b1_8)"/>
<path d="M396,182C398.4,178.8 406.4,181.7 410.7,182C415,182.3 418.9,182.5 422,184.1C425.1,185.7 428.4,188.9 429.1,191.3C429.8,193.7 429.4,196.8 426.3,198.4C423.2,200.1 415.8,200.7 410.7,201.2C405.6,201.7 398.4,204.4 396,201.2C393.6,198 393.6,185.2 396,182Z" fill="rgb(48,48,48)" filter="url(#b_b2_0)"/>
<ellipse cx="410" cy="190" rx="9" ry="5" fill="rgb(38,38,38)" filter="url(#b_b2_5)"/>
<path d="M420,172.5C421.1,172.8 422.9,173 426.3,174.2C429.7,175.4 435.8,177.5 440.5,179.9C445.2,182.3 450.4,185.6 454.7,188.4C459,191.2 464.2,195.2 466.1,196.5" fill="none" stroke="rgb(117,117,117)" stroke-width="4.5" stroke-linecap="round" stroke-linejoin="round" filter="url(#b_b2_0)"/>
<path d="M398,253.3L401,253.3L404,253.3L407,253.3L410.1,253.2L413.1,253.2L416.2,253.1L419.4,252.9L422.5,252.6L425.6,252.3L428.7,251.9L432,251.4L435.2,250.6L438.3,249.8L441.3,248.9L444.3,247.9L447.3,246.8L450.2,245.7L453,244.5L455.7,243.4L458.4,242.3L461.1,241.3L464.1,240.2L467.2,238.9L462.5,229.1L460,230L457.2,230.8L454.3,231.6L451.3,232.3L448.2,232.9L445.2,233.4L442.3,233.7L439.3,233.4L436.2,232.9L433.2,232.3L430.5,231.8L428,231.1L425.6,230.3L423,229.4L420.3,229.3L417.7,229.1L415.2,228.8L412.5,228.4L409.7,228.2L406.8,228.3L403.9,228.3L400.9,228.3L397.9,228.3Z" fill="rgb(158,158,158)" filter="url(#b_b2_0)"/>
<path d="M398,253.3L401,253.3L404,253.3L407,253.3L410.1,253.2L413.1,253.2L416.2,253.1L419.4,252.9L422.5,252.6L425.6,252.3L428.7,251.9L432,251.4L435.2,250.6L438.3,249.8L441.3,248.9L444.3,247.9L447.3,246.8L450.2,245.7L453,244.5L455.7,243.4L458.4,242.3L461.1,241.3L464.1,240.2L467.2,238.9L470.2,237.3L473,235.7L475.6,234L478,232.5L480.5,231L483.1,229.5L485.6,228.1L488,226.8L490.3,225.8L492.7,224.9L495.3,224.1L498.1,223.4L500.8,222.8L503.5,222.2L506.6,221.7L509.8,221L513,220.1L516,219.1L519,218.1L522,216.9L524.9,215.6L527.8,214.2L530.5,212.8L533.3,211.3L535.9,209.8L538.6,208.3L541.3,206.7L543.9,205.1L546.6,203.4L549.2,201.6L551.7,199.8L554.2,198L556.6,196.1L559.1,194.2L561.6,192L564,189.8L566.2,187.4L568.3,185.1L570.3,182.8L572.3,180.5L574.3,178.2L576.3,175.8L578.2,173.3L580.1,170.8L581.9,168.1L583.6,165.5L585.2,162.8L586.8,160.1L588.4,157.4L589.8,154.6L591.2,151.9L592.5,149.1L593.8,146.4L595.2,143.6L596.5,140.5L597.5,137.4L598.5,134.2L599.3,131L599.9,127.9L600.4,124.8L600.8,121.6L601.2,118.4L601.4,115.3L601.5,112.3L601.7,109.2L601.8,106.1L601.9,103L601.8,99.9L601.8,96.9L591.8,97.1L591.8,100L591.9,103L591.8,105.9L591.7,108.8L591.6,111.8L591.4,114.7L591.2,117.6L590.9,120.4L590.4,123.3L589.8,126.1L589.2,128.8L588.4,131.5L587.6,134.1L586.5,136.7L585.4,139.2L584.1,141.7L582.7,144.4L581.3,147L579.9,149.6L578.5,152.1L577,154.5L575.5,157L573.9,159.4L572.2,161.7L570.4,163.8L568.6,166L566.7,168.1L564.7,170.1L562.6,172.2L560.6,174.3L558.5,176.4L556.5,178.3L554.4,180.2L552.5,182L550.5,183.7L548.4,185.4L546,187.2L543.8,189.1L541.7,190.9L539.5,192.7L537.3,194.5L535,196.3L532.7,198.1L530.4,200L528.1,201.8L525.5,203.2L522.9,204.5L520.4,205.8L517.8,206.9L515.2,208L512.5,208.9L509.8,209.8L507.2,210.5L504.5,211.1L501.6,211.6L498.5,212.2L495.5,212.9L492.4,213.7L489.4,214.6L486.2,215.7L483.2,217.1L480.3,218.6L477.7,220.2L475.1,221.7L472.4,223.3L469.8,224.9L467.3,226.4L464.9,227.9L462.6,229.1L460.1,230.2L457.4,231.2L454.5,232.2L451.7,233.4L448.9,234.5L446.1,235.6L443.5,236.7L440.8,237.7L438,238.6L435.3,239.4L432.6,240.2L429.9,240.8L427.2,241.2L424.4,241.6L421.5,241.9L418.6,242.1L415.8,242.3L412.9,242.4L409.9,242.4L406.9,242.5L404,242.5L401,242.5L398,242.5Z" fill="url(#b_g1)" filter="url(#b_b1_4)"/>
<path d="M469.8,194.3C471.1,192.8 478,194.2 481.8,194.8C485.6,195.4 489.2,196.7 492.8,197.6C496.4,198.5 500.1,199.7 503.7,200.3C507.3,200.9 511,201.4 514.6,201.4C518.2,201.4 521.9,201.2 525.5,200.3C529.1,199.4 533.8,196 536.4,195.9C539,195.8 543.7,197.2 541,200C538.3,202.8 526.8,209.3 520,213C513.2,216.7 505.7,220 500,222C494.3,224 489.2,225 486,225C482.8,225 482.1,223 481,222C479.9,221 479.6,220.4 479.7,218.8C479.8,217.2 482.7,214.8 481.8,212.3C480.9,209.8 476.2,206.6 474.2,203.6C472.2,200.6 468.5,195.8 469.8,194.3Z" fill="rgb(161,161,161)" filter="url(#b_b1_7)"/>
<path d="M398,253.3L401,253.3L404,253.3L407,253.3L410.1,253.2L413.1,253.2L416.2,253.1L419.4,252.9L422.5,252.6L425.6,252.3L428.7,251.9L432,251.4L435.2,250.6L438.3,249.8L441.3,248.9L444.3,247.9L447.3,246.8L444,238.1L440.9,238L437.7,237.6L434.5,236.8L431.5,236L428.8,235.2L426.2,234.4L423.4,233.4L420.7,233.2L418,232.9L415.4,232.6L412.6,232.2L409.7,231.9L406.8,232L403.9,232L400.9,232L397.9,232Z" fill="url(#b_g2)" filter="url(#b_b1_6)"/>
<path d="M478.6,199.2C479.1,198.2 482.6,199.6 485,200C487.4,200.4 489.7,200.5 492.8,201.4C495.9,202.3 500.1,204.3 503.7,205.2C507.3,206.1 511.7,206.7 514.6,206.8C517.5,206.9 519.2,205.2 521.1,205.7C523,206.1 528.7,206.8 526,209.5C523.3,212.2 511,219.2 505,222C499,224.8 492.9,227.4 490,226C487.1,224.6 488.7,216.8 487.3,213.4C485.9,210 483.2,208.1 481.8,205.7C480.4,203.3 478.1,200.1 478.6,199.2Z" fill="rgb(196,196,196)" filter="url(#b_b1_5)"/>
<path d="M398,253.3L401,253.3L404,253.3L407,253.3L410.1,253.2L413.1,253.2L416.2,253.1L419.4,252.9L422.5,252.6L425.6,252.3L428.7,251.9L432,251.4L435.2,250.6L432.6,240.1L429.6,239.1L426.7,238.1L423.9,237.2L420.9,236.2L418.2,236L415.5,235.8L412.7,235.4L409.8,235.2L406.9,235.3L403.9,235.3L400.9,235.3L397.9,235.3Z" fill="url(#b_g3)" filter="url(#b_b1_4)"/>
<path d="M486.5,216.5C486.2,213.9 487.4,211.9 488.5,210.5C489.6,209.1 490.3,208 492.8,207.9C495.3,207.8 500.6,209.6 503.7,210.1C506.8,210.6 509.2,210.4 511.3,211.2C513.4,212 517,213.2 516,215C515,216.8 509.3,220.2 505,222C500.7,223.8 493.1,226.9 490,226C486.9,225.1 486.8,219.1 486.5,216.5Z" fill="rgb(230,230,230)" filter="url(#b_b1_3)"/>
<g filter="url(#b_b0_8)"><circle cx="437" cy="240.5" r="1.5" fill="rgb(204,204,204)"/><circle cx="444.1" cy="238" r="1.5" fill="rgb(204,204,204)"/><circle cx="451.2" cy="235.2" r="1.5" fill="rgb(204,204,204)"/><circle cx="458.5" cy="232.3" r="1.5" fill="rgb(204,204,204)"/><circle cx="465.2" cy="229.4" r="1.5" fill="rgb(204,204,204)"/><circle cx="471.6" cy="225.5" r="1.5" fill="rgb(204,204,204)"/><circle cx="478.3" cy="221.5" r="1.5" fill="rgb(204,204,204)"/></g>
<g filter="url(#b_b0_8)"><circle cx="512.5" cy="208.9" r="1.9" fill="rgb(214,214,214)"/><circle cx="521.1" cy="205.4" r="1.9" fill="rgb(204,204,204)"/><circle cx="529.7" cy="200.9" r="1.9" fill="rgb(194,194,194)"/></g>
<g filter="url(#b_b0_9)"><circle cx="533.5" cy="198.6" r="2.1" fill="rgb(168,168,168)"/><circle cx="542.2" cy="193.1" r="2.1" fill="rgb(160,160,160)"/><circle cx="550.5" cy="187" r="2.1" fill="rgb(152,152,152)"/><circle cx="557.7" cy="180.4" r="2.1" fill="rgb(144,144,144)"/><circle cx="564.6" cy="172.6" r="2.1" fill="rgb(136,136,136)"/><circle cx="570.9" cy="164.6" r="2.1" fill="rgb(128,128,128)"/></g>
<ellipse cx="502" cy="214.2" rx="3.5" ry="1.2" fill="rgb(255,255,255)" transform="rotate(-10 502 214.2)" filter="url(#b_b0_9)"/>
<ellipse cx="414" cy="243" rx="7" ry="1.5" fill="rgb(242,242,242)" filter="url(#b_b1_1)"/>
<ellipse cx="409" cy="171.7" rx="14.5" ry="3.4" fill="rgb(161,161,161)" filter="url(#b_b1_4)"/>
</g></g></g>
<defs>
<clipPath id="c_clip"><rect x="763.3" y="27.5" width="207.6" height="383.1"/></clipPath>
<filter id="c_b0_8" x="-50%" y="-50%" width="200%" height="200%" color-interpolation-filters="sRGB"><feGaussianBlur stdDeviation="0.8"/></filter>
<filter id="c_b3_5" x="-50%" y="-50%" width="200%" height="200%" color-interpolation-filters="sRGB"><feGaussianBlur stdDeviation="3.5"/></filter>
<filter id="c_b4_0" x="-50%" y="-50%" width="200%" height="200%" color-interpolation-filters="sRGB"><feGaussianBlur stdDeviation="4"/></filter>
<filter id="c_b3_2" x="-50%" y="-50%" width="200%" height="200%" color-interpolation-filters="sRGB"><feGaussianBlur stdDeviation="3.2"/></filter>
<filter id="c_b2_4" x="-50%" y="-50%" width="200%" height="200%" color-interpolation-filters="sRGB"><feGaussianBlur stdDeviation="2.4"/></filter>
<filter id="c_b2_6" x="-50%" y="-50%" width="200%" height="200%" color-interpolation-filters="sRGB"><feGaussianBlur stdDeviation="2.6"/></filter>
<filter id="c_b2_8" x="-50%" y="-50%" width="200%" height="200%" color-interpolation-filters="sRGB"><feGaussianBlur stdDeviation="2.8"/></filter>
<filter id="c_b2_5" x="-50%" y="-50%" width="200%" height="200%" color-interpolation-filters="sRGB"><feGaussianBlur stdDeviation="2.5"/></filter>
<filter id="c_b1_2" x="-50%" y="-50%" width="200%" height="200%" color-interpolation-filters="sRGB"><feGaussianBlur stdDeviation="1.2"/></filter>
<filter id="c_b2_0" x="-50%" y="-50%" width="200%" height="200%" color-interpolation-filters="sRGB"><feGaussianBlur stdDeviation="2"/></filter>
<filter id="c_b1_5" x="-50%" y="-50%" width="200%" height="200%" color-interpolation-filters="sRGB"><feGaussianBlur stdDeviation="1.5"/></filter>
<filter id="c_b1_7" x="-50%" y="-50%" width="200%" height="200%" color-interpolation-filters="sRGB"><feGaussianBlur stdDeviation="1.7"/></filter>
<filter id="c_b0_9" x="-50%" y="-50%" width="200%" height="200%" color-interpolation-filters="sRGB"><feGaussianBlur stdDeviation="0.9"/></filter>
<filter id="c_ms" filterUnits="userSpaceOnUse" x="743.3" y="7.5" width="247.6" height="423.1" color-interpolation-filters="sRGB"><feGaussianBlur stdDeviation="0.8"/></filter>
<mask id="c_mask" maskUnits="userSpaceOnUse" x="753.3" y="17.5" width="227.6" height="403.1"><path d="M751,20L751,319L753.5,318.9L756,318.9L758.5,318.8L761,318.7L763.5,318.5L765.9,318.1L768.4,317.7L770.8,317.1L773.3,316.6L775.7,316L778.1,315.3L780.5,314.7L782.9,314L785.3,313.3L787.7,312.5L790,311.7L792.4,310.9L794.7,310L797.1,309.2L799.4,308.4L801.8,307.5L804.2,306.7L806.5,305.9L808.9,305.1L811.2,304.2L813.6,303.4L815.9,302.6L818.2,301.6L820.5,300.6L822.7,299.4L824.9,298.3L827.2,297.1L829.4,296L831.5,294.8L833.7,293.6L835.9,292.3L838,291L840.1,289.6L842,288.1L844,286.5L846.1,285.1L848.2,283.8L850.4,282.7L852.8,281.8L855.2,281.1L857.6,280.6L860,280L862.5,279.4L864.9,278.7L867.3,278.1L869.7,277.4L872.1,276.7L874.4,275.9L876.8,275.2L879.2,274.3L881.5,273.4L883.7,272.3L886,271.2L888.1,270L890.3,268.7L892.5,267.5L894.6,266.2L896.7,264.8L898.8,263.5L900.9,262.1L903,260.8L905.1,259.4L907.1,258L909.2,256.6L911.3,255.2L913.4,253.9L915.5,252.5L917.6,251.1L919.7,249.8L921.7,248.4L923.8,246.9L925.8,245.5L927.8,244L929.9,242.7L931.9,241.1L933.7,239.4L935.4,237.6L937,235.7L938.6,233.8L940.2,231.9L941.8,230L943.4,228L945,226.1L946.6,224.2L948.2,222.3L949.8,220.3L951.4,218.5L953.1,216.6L954.7,214.7L956.4,212.8L957.9,210.8L959.4,208.8L960.8,206.8L962.1,204.7L963.3,202.5L964.2,200.2L965.1,197.8L965.9,195.4L966.6,193L967.2,190.6L967.7,188.2L968.2,185.7L968.5,183.3L968.8,180.8L969.1,178.3L969.3,175.8L969.5,173.3L969.7,170.8L969.9,168.3L970,165.9L970.2,163.4L970.3,160.9L970.5,158.4L970.6,155.9L970.8,153.4L970.9,150.9L971,148.4L971.1,145.9L971.2,143.4L971.3,140.9L971.3,138.4L971.4,135.9L971.5,133.4L971.5,130.9L971.6,128.4L971.6,126L971.7,123.5L971.7,121L971.8,118.5L971.8,116L971.9,113.5L971.9,111L971.9,108.5L972,106L972,103.5L972,101L972,98.5L972,96L972,105.5L875.8,105.5L875.8,20Z" fill="#fff" stroke="#fff" stroke-width="0.6" stroke-linejoin="round" filter="url(#c_ms)"/></mask>
<linearGradient id="c_g1" gradientUnits="userSpaceOnUse" x1="751" y1="319" x2="972" y2="96"><stop offset="0.0000" stop-color="rgb(153,153,153)"/><stop offset="0.0745" stop-color="rgb(148,148,148)"/><stop offset="0.1344" stop-color="rgb(145,145,145)"/><stop offset="0.2661" stop-color="rgb(153,153,153)"/><stop offset="0.5174" stop-color="rgb(161,161,161)"/><stop offset="0.5742" stop-color="rgb(143,143,143)"/><stop offset="0.6450" stop-color="rgb(128,128,128)"/><stop offset="0.7091" stop-color="rgb(117,117,117)"/><stop offset="0.7475" stop-color="rgb(107,107,107)"/><stop offset="0.8030" stop-color="rgb(92,92,92)"/><stop offset="1.0000" stop-color="rgb(76,76,76)"/></linearGradient>
</defs>
<g clip-path="url(#c_clip)"><g filter="url(#cmapf)">
<rect x="755.3" y="19.5" width="223.6" height="399.1" fill="#000"/>
<path d="M751,319L753.5,318.9L756,318.9L758.5,318.8L761,318.7L763.5,318.5L765.9,318.1L768.4,317.7L770.8,317.1L773.3,316.6L775.7,316L778.1,315.3L780.5,314.7L782.9,314L785.3,313.3L787.7,312.5L790,311.7L792.4,310.9L794.7,310L797.1,309.2L799.4,308.4L801.8,307.5L804.2,306.7L806.5,305.9L808.9,305.1L811.2,304.2L813.6,303.4L815.9,302.6L818.2,301.6L820.5,300.6L822.7,299.4L824.9,298.3L827.2,297.1L829.4,296L831.5,294.8L833.7,293.6L835.9,292.3L838,291L840.1,289.6L842,288.1L844,286.5L846.1,285.1L848.2,283.8L850.4,282.7L852.8,281.8L855.2,281.1L857.6,280.6L860,280L862.5,279.4L864.9,278.7L867.3,278.1L869.7,277.4L872.1,276.7L874.4,275.9L876.8,275.2L879.2,274.3L881.5,273.4L883.7,272.3L886,271.2L888.1,270L890.3,268.7L892.5,267.5L894.6,266.2L896.7,264.8L898.8,263.5L900.9,262.1L903,260.8L905.1,259.4L907.1,258L909.2,256.6L911.3,255.2L913.4,253.9L915.5,252.5L917.6,251.1L919.7,249.8L921.7,248.4L923.8,246.9L925.8,245.5L927.8,244L929.9,242.7L931.9,241.1L933.7,239.4L935.4,237.6L937,235.7L938.6,233.8L940.2,231.9L941.8,230L943.4,228L945,226.1L946.6,224.2L948.2,222.3L949.8,220.3L951.4,218.5L953.1,216.6L954.7,214.7L956.4,212.8L957.9,210.8L959.4,208.8L960.8,206.8L962.1,204.7L963.3,202.5L964.2,200.2" fill="none" stroke="rgb(76,76,76)" stroke-width="4.6" stroke-linecap="butt" filter="url(#c_b0_8)"/>
<g mask="url(#c_mask)">
<path d="M740,10L875.8,10L875.8,105.5L985,105.5L985,420L740,420Z" fill="rgb(17,17,17)"/>
<path d="M745,155.5C750.8,126.2 771.5,154.7 780,156C788.5,157.3 789.7,163.8 796,163.5C802.3,163.2 810.7,155 817.7,154C824.7,153 833.2,155 838,157.5C842.8,160 844.3,164.9 846.5,169C848.7,173.1 849.1,177.7 851,182C852.9,186.3 855.2,191.5 858,195C860.8,198.5 864.3,201.3 868,203C871.7,204.7 876,205 880,205C884,205 888.2,204 892,203C895.8,202 899.2,200.4 903,199C906.8,197.6 910.7,196.3 915,194.5C919.3,192.7 924.9,191.1 929,188C933.1,184.9 936.7,180.7 939.5,176C942.3,171.3 944.2,165.3 946,160C947.8,154.7 949.2,150 950.5,144.2C951.8,138.4 952.7,131.5 953.5,125C954.3,118.5 955.1,110 955.4,105C955.7,100 950.5,96.7 955.4,95C960.3,93.3 980.1,77.5 985,95C989.9,112.5 988.2,178.3 985,200C981.8,221.7 973.8,215.7 966,225C958.2,234.3 949.5,246.2 938,256C926.5,265.8 911.3,276.7 897,284C882.7,291.3 868.2,293.3 852,300C835.8,306.7 817.8,318.7 800,324C782.2,329.3 754.2,360.1 745,332C735.8,303.9 739.2,184.8 745,155.5Z" fill="rgb(57,57,57)" filter="url(#c_b3_5)"/>
<path d="M745,186C750.8,161.8 771.5,185.8 780,186.5C788.5,187.2 789.7,190.7 796,190.5C802.3,190.3 812.2,185.6 817.7,185.5C823.2,185.4 826.3,187.1 829,190C831.7,192.9 832.2,199 834,203C835.8,207 837.8,211.3 840,214C842.2,216.7 843.6,217.2 847,219C850.4,220.8 855.5,223.3 860.3,224.5C865.1,225.7 870.5,226.3 875.6,226C880.7,225.7 885.7,224.3 890.8,222.5C895.9,220.7 901,217.9 906.1,215C911.2,212.1 916.8,208.7 921.4,205C926,201.3 930,196.9 933.6,193C937.2,189.1 940.1,187 943,181.5C945.9,176 948.7,168.2 951,160C953.3,151.8 955.5,141.2 957,132C958.5,122.8 959.5,111.2 960,105C960.5,98.8 955.8,96.7 960,95C964.2,93.3 980.8,77.5 985,95C989.2,112.5 988.2,178.3 985,200C981.8,221.7 973.8,215.7 966,225C958.2,234.3 949.5,246.2 938,256C926.5,265.8 911.3,276.7 897,284C882.7,291.3 868.2,293.3 852,300C835.8,306.7 817.8,318.7 800,324C782.2,329.3 754.2,355 745,332C735.8,309 739.2,210.2 745,186Z" fill="rgb(64,64,64)" filter="url(#c_b4_0)"/>
<path d="M745,202C750.8,180.4 771.5,201.9 780,202.5C788.5,203.1 791.2,204.9 796,205.5C800.8,206.1 805.5,204.6 809,206C812.5,207.4 814.3,211 817,214C819.7,217 822.2,221.2 825,224C827.8,226.8 829.8,228.9 834,230.5C838.2,232.1 845.6,232.8 850,233.5C854.4,234.2 856,235 860.3,235C864.6,235 870.5,234.5 875.6,233.5C880.7,232.5 885.7,230.9 890.8,229C895.9,227.1 901,224.8 906.1,222C911.2,219.2 916.3,215.8 921.4,212C926.5,208.2 932.3,203.3 936.7,199C941.1,194.7 945,191.7 948,186C951,180.3 953,173.5 955,165C957,156.5 958.8,145 960,135C961.2,125 962.1,111.7 962.5,105C962.9,98.3 958.8,96.7 962.5,95C966.2,93.3 981.2,77.5 985,95C988.8,112.5 988.2,178.3 985,200C981.8,221.7 973.8,215.7 966,225C958.2,234.3 949.5,246.2 938,256C926.5,265.8 911.3,276.7 897,284C882.7,291.3 868.2,293.3 852,300C835.8,306.7 817.8,318.7 800,324C782.2,329.3 754.2,352.3 745,332C735.8,311.7 739.2,223.6 745,202Z" fill="rgb(71,71,71)" filter="url(#c_b3_2)"/>
<path d="M745,215C750.8,195.6 771.8,215.3 780,215.5C788.2,215.7 790.5,215.8 794,216C797.5,216.2 798.5,215.8 801,216.5C803.5,217.2 806,217.8 809,220C812,222.2 815.7,226.8 819,229.5C822.3,232.2 824.5,234.9 828.8,236.3C833.1,237.7 839.8,237.4 845,237.8C850.2,238.2 855.2,238.6 860.3,238.5C865.4,238.4 870.5,238 875.6,237C880.7,236 885.7,234.3 890.8,232.4C895.9,230.5 901,228.3 906.1,225.5C911.2,222.7 916.3,219.4 921.4,215.6C926.5,211.8 932.1,207.1 936.7,202.6C941.3,198.1 945.9,192.6 948.9,188.8C951.9,185 953.1,184.8 955,180C956.9,175.2 958.6,167.5 960,160C961.4,152.5 962.6,144.2 963.5,135C964.4,125.8 965.2,111.7 965.5,105C965.8,98.3 962.2,96.7 965.5,95C968.8,93.3 981.8,77.5 985,95C988.2,112.5 988.2,178.3 985,200C981.8,221.7 973.8,215.7 966,225C958.2,234.3 949.5,246.2 938,256C926.5,265.8 911.3,276.7 897,284C882.7,291.3 868.2,293.3 852,300C835.8,306.7 817.8,318.7 800,324C782.2,329.3 754.2,350.2 745,332C735.8,313.8 739.2,234.4 745,215Z" fill="rgb(80,80,80)" filter="url(#c_b2_4)"/>
<path d="M745,228.5C750.8,211.3 771,228.5 780,229C789,229.5 794.5,229.6 799.3,231.5C804.1,233.4 805.7,238.1 809,240.5C812.3,242.9 815.5,244.9 819,246C822.5,247.1 826.5,247.3 830,247C833.5,246.7 837,244.9 840,244C843,243.1 842.1,241.9 848,241.5C853.9,241.1 868.5,242 875.6,241.3C882.7,240.6 885.7,239.2 890.8,237.5C895.9,235.8 901,234 906.1,231.4C911.2,228.8 916.3,225.8 921.4,222.2C926.5,218.6 932.3,213.9 936.7,210C941.1,206.1 944.8,202.1 948,199C951.2,195.9 953.5,193.3 956,191.5C958.5,189.7 958.2,188.9 963,188C967.8,187.1 981.3,184 985,186C988.7,188 988.2,193.5 985,200C981.8,206.5 973.8,215.7 966,225C958.2,234.3 949.5,246.2 938,256C926.5,265.8 911.3,276.7 897,284C882.7,291.3 868.2,293.3 852,300C835.8,306.7 817.8,318.7 800,324C782.2,329.3 754.2,347.9 745,332C735.8,316.1 739.2,245.7 745,228.5Z" fill="rgb(107,107,107)" filter="url(#c_b2_6)"/>
<path d="M745,238.5C752.3,222.9 780.3,237.4 789,238.5C797.7,239.6 795,242.2 797,245C799,247.8 798.3,252.5 801,255C803.7,257.5 808.2,259.5 813,260C817.8,260.5 824.7,259.2 830,258C835.3,256.8 840,253.8 845,252.5C850,251.2 854.9,250.8 860,250C865.1,249.2 867.9,249.9 875.6,248C883.3,246.1 898.5,241.6 906.1,238.8C913.7,236 916.3,234.4 921.4,231.2C926.5,227.9 932.6,222.8 936.7,219.3C940.8,215.9 943.3,213.1 946,210.5C948.7,207.9 950.7,205.8 953,204C955.3,202.2 954.7,201 960,200C965.3,199 980.8,198 985,198C989.2,198 988.2,195.5 985,200C981.8,204.5 973.8,215.7 966,225C958.2,234.3 949.5,246.2 938,256C926.5,265.8 911.3,276.7 897,284C882.7,291.3 868.2,293.3 852,300C835.8,306.7 817.8,318.7 800,324C782.2,329.3 754.2,346.2 745,332C735.8,317.8 737.7,254.1 745,238.5Z" fill="rgb(128,128,128)" filter="url(#c_b2_8)"/>
<ellipse cx="762" cy="276.5" rx="39" ry="13.5" fill="rgb(84,84,84)" transform="rotate(4 762 276.5)" filter="url(#c_b2_5)"/>
<ellipse cx="762" cy="276" rx="31" ry="10" fill="rgb(69,69,69)" transform="rotate(4 762 276)" filter="url(#c_b2_5)"/>
<ellipse cx="764" cy="274.5" rx="18" ry="6.3" fill="rgb(55,55,55)" transform="rotate(3 764 274.5)" filter="url(#c_b2_5)"/>
<path d="M751.1,325L754.1,324.9L757.2,324.9L760.3,324.7L763.6,324.5L766.9,324.1L770.1,323.5L773.2,322.7L776.2,322L779.2,321.3L782.2,320.4L785.1,319.6L788.1,318.7L791.1,317.7L794,316.7L796.8,315.7L799.6,314.6L802.4,313.7L805.3,312.7L808.1,311.7L810.9,310.7L813.8,309.7L816.6,308.7L819.7,307.5L822.8,306.1L825.5,304.7L828.3,303.3L831,301.9L833.6,300.5L836.4,299L839.1,297.4L841.9,295.6L844.6,293.7L846.9,291.8L849.1,290.3L851.2,289L853.4,288L855.5,287.2L858.1,286.6L861.1,285.9L864.1,285.1L867.1,284.4L870.1,283.5L873,282.7L875.9,281.8L879,280.8L882,279.6L885.1,278.3L888,276.9L890.8,275.4L893.5,273.8L896.2,272.2L898.8,270.6L901.4,269L904,267.3L906.5,265.6L909,263.9L911.5,262.3L913.9,260.7L916.5,259L919,257.4L921.5,255.7L924.1,254L926.6,252.3L929.1,250.5L931.5,248.8L934.2,247L937,244.6L939.3,242.1L941.4,239.8L943.4,237.4L945.3,235.1L947.3,232.8L949.2,230.5L951.1,228.2L953,225.9L954.9,223.6L956.8,221.4L958.8,219.2L960.9,216.7L962.9,214.2L964.8,211.6L966.7,208.8L968.4,205.7L969.8,202.5L970.9,199.4L971.9,196.3L972.7,193.2L973.5,190L974.1,186.8L974.5,183.7L974.9,180.5L975.2,177.4L975.4,174.4L975.7,171.4L975.9,168.4L976.1,165.3L976.3,162.3L976.4,159.3L976.6,156.3L976.8,153.3L976.9,150.3L977.1,147.2L977.2,144.2L977.3,141.2L977.4,138.1L977.4,135.1L977.5,132.1L977.6,129.1L977.6,126.1L977.7,123.1L977.7,120.1L977.8,117.1L977.8,114.1L977.9,111.1L978,108.1L978,105.1L978,102L978,99L978,95.9L969,96L969,99L969,102L969,105L969,107.9L968.9,110.9L968.8,113.9L968.8,116.9L968.7,119.9L968.7,122.9L968.6,125.9L968.6,128.9L968.5,131.9L968.4,134.9L968.4,137.9L968.3,140.9L968.2,143.9L968.1,146.9L967.9,149.8L967.8,152.8L967.6,155.8L967.5,158.8L967.3,161.8L967.1,164.8L966.9,167.7L966.7,170.7L966.5,173.7L966.2,176.7L965.9,179.6L965.5,182.5L965.1,185.3L964.5,188.1L963.7,190.9L962.9,193.7L962,196.4L960.9,199L959.7,201.4L958.3,203.7L956.7,205.9L954.9,208.2L953.1,210.4L951.2,212.5L949.1,214.7L947.1,216.9L945.1,219.2L943.1,221.5L941.1,223.8L939.2,226.1L937.3,228.4L935.4,230.6L933.5,232.9L931.6,235.1L929.7,237L927.8,238.6L925.5,240.2L923.1,242.1L920.7,243.9L918.3,245.6L915.9,247.3L913.5,249L911,250.7L908.5,252.3L906,254L903.5,255.7L901,257.3L898.5,259L896,260.6L893.5,262.2L891,263.7L888.5,265.2L886,266.7L883.4,268.1L880.9,269.3L878.4,270.5L875.7,271.4L873,272.3L870.2,273.2L867.3,274L864.5,274.8L861.6,275.6L858.8,276.4L855.9,277L852.8,277.7L849.6,278.9L846.5,280.4L843.7,282.1L841.1,284L838.7,285.8L836.4,287.5L834,289L831.5,290.5L829,291.9L826.4,293.3L823.8,294.7L821.1,296.1L818.5,297.4L816,298.6L813.4,299.6L810.6,300.6L807.7,301.6L804.9,302.6L802.1,303.6L799.3,304.6L796.4,305.6L793.5,306.5L790.7,307.5L787.9,308.4L785.1,309.3L782.3,310.1L779.5,310.8L776.6,311.5L773.8,312.2L770.9,312.9L768,313.5L765.3,314L762.6,314.3L759.8,314.4L756.9,314.5L753.9,314.5L750.9,314.5Z" fill="url(#c_g1)" filter="url(#c_b1_2)"/>
<path d="M832,265.5C832.1,263.4 835.2,262.1 839.8,260.6C844.4,259.1 853,257.4 859.5,256.7C866,256 873.4,256.5 879.1,256.2C884.8,255.9 889.8,255.8 893.9,254.7C898,253.6 900.4,251.4 903.7,249.8C907,248.2 910.5,246.4 913.5,244.9C916.5,243.4 919.2,240.5 922,241C924.8,241.5 932.8,243.8 930,248C927.2,252.2 913.3,260.5 905,266C896.7,271.5 887.5,277.3 880,281C872.5,284.7 865.3,286.5 860,288C854.7,289.5 850.5,291 848,290C845.5,289 846.5,284.8 845,282C843.5,279.2 841.2,275.8 839,273C836.8,270.2 831.9,267.6 832,265.5Z" fill="rgb(161,161,161)" filter="url(#c_b2_0)"/>
<ellipse cx="758" cy="258.2" rx="25" ry="5.3" fill="rgb(158,158,158)" filter="url(#c_b2_0)"/>
<ellipse cx="756" cy="258.2" rx="17" ry="2.7" fill="rgb(194,194,194)" filter="url(#c_b1_5)"/>
<path d="M841.8,266.5C842.4,264.7 845,263.9 849.6,263C854.2,262.1 864.4,261.2 869.3,261C874.2,260.8 875.7,261.8 879,261.5C882.3,261.2 886,260.4 889,259.5C892,258.6 894.7,257.2 897,256C899.3,254.8 900.8,251.8 903,252.5C905.2,253.2 913,255.6 910,260C907,264.4 893,274.3 885,279C877,283.7 867.5,286.3 862,288C856.5,289.7 854.2,290.2 852,289C849.8,287.8 850,283.5 849,281C848,278.5 847.2,276.4 846,274C844.8,271.6 841.2,268.3 841.8,266.5Z" fill="rgb(194,194,194)" filter="url(#c_b1_7)"/>
<path d="M850,270.5C850.3,268.4 851.4,269 854.6,268.5C857.8,268 865.2,267.8 869.3,267.5C873.4,267.2 875.7,267.1 879,266.5C882.3,265.9 886.3,264.7 889,263.6C891.7,262.5 893.2,259.6 895,260C896.8,260.4 901.7,262.8 900,266C898.3,269.2 891.3,275.3 885,279C878.7,282.7 867,286.3 862,288C857,289.7 856.5,290.2 855,289C853.5,287.8 853.8,284.1 853,281C852.2,277.9 849.7,272.6 850,270.5Z" fill="rgb(230,230,230)" filter="url(#c_b1_5)"/>
<g filter="url(#c_b0_8)"><circle cx="767.5" cy="315.4" r="1.5" fill="rgb(168,168,168)"/><circle cx="775.5" cy="313.5" r="1.5" fill="rgb(168,168,168)"/><circle cx="783.5" cy="311.3" r="1.5" fill="rgb(168,168,168)"/><circle cx="791.3" cy="308.7" r="1.5" fill="rgb(168,168,168)"/><circle cx="799.2" cy="305.9" r="1.5" fill="rgb(168,168,168)"/><circle cx="807.1" cy="303.1" r="1.5" fill="rgb(168,168,168)"/><circle cx="815" cy="300.4" r="1.5" fill="rgb(168,168,168)"/><circle cx="822.3" cy="297" r="1.5" fill="rgb(168,168,168)"/><circle cx="829.6" cy="293.1" r="1.5" fill="rgb(168,168,168)"/><circle cx="836.7" cy="289" r="1.5" fill="rgb(168,168,168)"/></g>
<g filter="url(#c_b0_8)"><circle cx="891.1" cy="264.1" r="1.9" fill="rgb(224,224,224)"/><circle cx="900.6" cy="258" r="1.9" fill="rgb(207,207,207)"/><circle cx="910" cy="251.8" r="1.9" fill="rgb(189,189,189)"/></g>
<g filter="url(#c_b0_8)"><circle cx="912.9" cy="249.6" r="2" fill="rgb(178,178,178)"/><circle cx="919.4" cy="245.4" r="2" fill="rgb(172,172,172)"/><circle cx="925.8" cy="240.9" r="2" fill="rgb(165,165,165)"/><circle cx="931.2" cy="236.5" r="2" fill="rgb(158,158,158)"/></g>
<g filter="url(#c_b0_9)"><circle cx="934.1" cy="233.2" r="2" fill="rgb(153,153,153)"/><circle cx="939.2" cy="227.2" r="2" fill="rgb(148,148,148)"/><circle cx="944.3" cy="221.1" r="2" fill="rgb(143,143,143)"/><circle cx="949.5" cy="214.9" r="2" fill="rgb(138,138,138)"/><circle cx="954.5" cy="209.1" r="2" fill="rgb(133,133,133)"/><circle cx="958.7" cy="203" r="2" fill="rgb(128,128,128)"/></g>
<ellipse cx="866.8" cy="275.2" rx="5.5" ry="1.3" fill="rgb(255,255,255)" transform="rotate(-9 866.8 275.2)" filter="url(#c_b0_9)"/>
</g></g></g>
<defs>
<clipPath id="d_clip"><rect x="1125" y="27" width="207.6" height="383.3"/></clipPath>
<filter id="d_b0_8" x="-50%" y="-50%" width="200%" height="200%" color-interpolation-filters="sRGB"><feGaussianBlur stdDeviation="0.8"/></filter>
<filter id="d_b2_2" x="-50%" y="-50%" width="200%" height="200%" color-interpolation-filters="sRGB"><feGaussianBlur stdDeviation="2.2"/></filter>
<filter id="d_b2_0" x="-50%" y="-50%" width="200%" height="200%" color-interpolation-filters="sRGB"><feGaussianBlur stdDeviation="2"/></filter>
<filter id="d_b1_5" x="-50%" y="-50%" width="200%" height="200%" color-interpolation-filters="sRGB"><feGaussianBlur stdDeviation="1.5"/></filter>
<filter id="d_b2_3" x="-50%" y="-50%" width="200%" height="200%" color-interpolation-filters="sRGB"><feGaussianBlur stdDeviation="2.3"/></filter>
<filter id="d_b2_1" x="-50%" y="-50%" width="200%" height="200%" color-interpolation-filters="sRGB"><feGaussianBlur stdDeviation="2.1"/></filter>
<filter id="d_b2_5" x="-50%" y="-50%" width="200%" height="200%" color-interpolation-filters="sRGB"><feGaussianBlur stdDeviation="2.5"/></filter>
<filter id="d_b1_8" x="-50%" y="-50%" width="200%" height="200%" color-interpolation-filters="sRGB"><feGaussianBlur stdDeviation="1.8"/></filter>
<filter id="d_b1_3" x="-50%" y="-50%" width="200%" height="200%" color-interpolation-filters="sRGB"><feGaussianBlur stdDeviation="1.3"/></filter>
<filter id="d_b0_9" x="-50%" y="-50%" width="200%" height="200%" color-interpolation-filters="sRGB"><feGaussianBlur stdDeviation="0.9"/></filter>
<filter id="d_ms" filterUnits="userSpaceOnUse" x="1105" y="7" width="247.6" height="423.3" color-interpolation-filters="sRGB"><feGaussianBlur stdDeviation="0.8"/></filter>
<mask id="d_mask" maskUnits="userSpaceOnUse" x="1115" y="17" width="227.6" height="403.3"><path d="M1111,20L1111,386.2L1113.5,386.2L1116,386.2L1118.5,386.2L1121,386.2L1123.5,386.1L1125.9,385.9L1128.4,385.7L1130.9,385.4L1133.4,385.1L1135.8,384.8L1138.3,384.4L1140.8,384L1143.2,383.6L1145.7,383.2L1148.1,382.7L1150.6,382.3L1153,381.8L1155.5,381.3L1157.9,380.7L1160.3,380.2L1162.8,379.6L1165.2,379L1167.6,378.4L1170,377.8L1172.4,377.2L1174.8,376.4L1177.2,375.7L1179.5,374.8L1181.8,374L1184.2,373L1186.5,372.1L1188.8,371.1L1191,370.1L1193.3,369.1L1195.6,368.1L1197.9,367L1200.1,366L1202.3,364.9L1204.6,363.8L1206.8,362.7L1209.1,361.6L1211.3,360.6L1213.6,359.5L1215.9,358.5L1218.2,357.6L1220.6,356.8L1222.9,356.1L1225.3,355.4L1227.7,354.7L1230.1,354L1232.5,353.4L1235,352.8L1237.4,352.2L1239.8,351.6L1242.2,350.9L1244.6,350.3L1247,349.6L1249.4,348.8L1251.7,348L1254.1,347.1L1256.4,346.2L1258.6,345.1L1260.9,344.1L1263.1,343L1265.3,341.9L1267.6,340.7L1269.7,339.5L1271.9,338.3L1274.1,337.1L1276.3,335.9L1278.5,334.8L1280.8,333.7L1282.9,332.4L1285,331L1286.9,329.5L1288.8,327.9L1290.6,326.2L1292.5,324.5L1294.3,322.8L1296.1,321.1L1297.9,319.4L1299.8,317.7L1301.7,316.1L1303.6,314.5L1305.5,312.9L1307.4,311.3L1309.3,309.7L1311.2,308.1L1313.1,306.5L1315,304.8L1316.8,303.2L1318.7,301.5L1320.5,299.8L1322.4,298.1L1324.2,296.4L1326,294.8L1327.9,293.1L1329.7,291.4L1331.5,289.6L1333.2,287.9L1335,286.1L1336.8,284.3L1338.5,282.6L1340.3,280.8L1342,279L1342,104.8L1234.6,104.8L1234.6,20Z" fill="#fff" stroke="#fff" stroke-width="0.6" stroke-linejoin="round" filter="url(#d_ms)"/></mask>
<linearGradient id="d_g1" gradientUnits="userSpaceOnUse" x1="1111" y1="386.2" x2="1206.4" y2="362.9"><stop offset="0.0000" stop-color="rgb(89,89,89)"/><stop offset="0.4467" stop-color="rgb(92,92,92)"/><stop offset="0.7970" stop-color="rgb(107,107,107)"/><stop offset="0.9287" stop-color="rgb(117,117,117)"/><stop offset="1.0282" stop-color="rgb(128,128,128)"/></linearGradient>
</defs>
<g clip-path="url(#d_clip)"><g filter="url(#cmapf)">
<rect x="1117" y="19" width="223.6" height="399.3" fill="#000"/>
<path d="M1111,386.2L1113.5,386.2L1116,386.2L1118.5,386.2L1121,386.2L1123.5,386.1L1125.9,385.9L1128.4,385.7L1130.9,385.4L1133.4,385.1L1135.8,384.8L1138.3,384.4L1140.8,384L1143.2,383.6L1145.7,383.2L1148.1,382.7L1150.6,382.3L1153,381.8L1155.5,381.3L1157.9,380.7L1160.3,380.2L1162.8,379.6L1165.2,379L1167.6,378.4L1170,377.8L1172.4,377.2L1174.8,376.4L1177.2,375.7L1179.5,374.8L1181.8,374L1184.2,373L1186.5,372.1L1188.8,371.1L1191,370.1L1193.3,369.1L1195.6,368.1L1197.9,367L1200.1,366L1202.3,364.9L1204.6,363.8L1206.8,362.7L1209.1,361.6L1211.3,360.6L1213.6,359.5L1215.9,358.5L1218.2,357.6L1220.6,356.8L1222.9,356.1L1225.3,355.4L1227.7,354.7L1230.1,354L1232.5,353.4L1235,352.8L1237.4,352.2L1239.8,351.6L1242.2,350.9L1244.6,350.3L1247,349.6L1249.4,348.8L1251.7,348L1254.1,347.1L1256.4,346.2L1258.6,345.1L1260.9,344.1L1263.1,343L1265.3,341.9L1267.6,340.7L1269.7,339.5L1271.9,338.3L1274.1,337.1L1276.3,335.9L1278.5,334.8L1280.8,333.7L1282.9,332.4L1285,331L1286.9,329.5L1288.8,327.9L1290.6,326.2L1292.5,324.5L1294.3,322.8L1296.1,321.1L1297.9,319.4L1299.8,317.7L1301.7,316.1L1303.6,314.5L1305.5,312.9L1307.4,311.3L1309.3,309.7L1311.2,308.1L1313.1,306.5L1315,304.8L1316.8,303.2L1318.7,301.5L1320.5,299.8L1322.4,298.1L1324.2,296.4L1326,294.8L1327.9,293.1L1329.7,291.4L1331.5,289.6L1333.2,287.9L1335,286.1L1336.8,284.3L1338.5,282.6L1340.3,280.8L1342,279" fill="none" stroke="rgb(76,76,76)" stroke-width="4.6" stroke-linecap="butt" filter="url(#d_b0_8)"/>
<g mask="url(#d_mask)">
<path d="M1100,10L1234.6,10L1234.6,104.8L1345,104.8L1345,420L1100,420Z" fill="rgb(22,22,22)"/>
<path d="M1105,37.6C1108.3,21.2 1117,37.6 1125,37.6C1133,37.6 1146,38.9 1152.7,37.6C1159.4,36.3 1161.8,33.8 1165,30C1168.2,26.2 1159.5,17.5 1172,15C1184.5,12.5 1228.7,9.2 1240,15C1251.3,20.8 1241.2,42.5 1240,50C1238.8,57.5 1236.2,55 1233,60C1229.8,65 1226.8,71.9 1220.5,80.3C1214.2,88.7 1203.8,101.8 1195.4,110.4C1187,119 1178.4,127.4 1170,131.8C1161.6,136.2 1152.5,136.1 1145,136.8C1137.5,137.5 1131.7,136.1 1125,136C1118.3,135.9 1108.3,152.4 1105,136C1101.7,119.6 1101.7,54 1105,37.6Z" fill="rgb(53,53,53)" filter="url(#d_b2_2)"/>
<path d="M1105,50C1108.3,35.8 1118.3,50.3 1125,50C1131.7,49.7 1139.5,49.2 1145,48C1150.5,46.8 1151.4,43.3 1157.7,42.6C1164,41.9 1176.5,42.6 1182.8,43.8C1189.1,45 1192.9,47 1195.4,50C1197.9,53 1197.8,57.8 1198,62C1198.2,66.2 1197.9,69.7 1196.6,75.3C1195.3,80.9 1193.5,89.1 1190.4,95.4C1187.3,101.7 1182.9,106.7 1177.8,113C1172.7,119.3 1166.3,129.3 1160,133C1153.7,136.7 1149.2,134.7 1140,135C1130.8,135.3 1110.8,149.2 1105,135C1099.2,120.8 1101.7,64.2 1105,50Z" fill="rgb(57,57,57)" filter="url(#d_b2_2)"/>
<path d="M1105,69C1108.3,58.2 1118.3,69.6 1125,69C1131.7,68.4 1137.5,67.5 1145,65.2C1152.5,62.9 1163.7,57.3 1170,55.2C1176.3,53.1 1179.4,50.9 1182.8,52.6C1186.2,54.3 1190,59.3 1190.4,65.2C1190.8,71.1 1188.7,79.8 1185.3,87.8C1181.9,95.8 1175.4,105.5 1170,113C1164.6,120.5 1163.5,129.5 1152.7,133C1141.9,136.5 1113,144.7 1105,134C1097,123.3 1101.7,79.8 1105,69Z" fill="rgb(61,61,61)" filter="url(#d_b2_2)"/>
<path d="M1105,85.3C1108.3,77.3 1118.3,86.5 1125,85.3C1131.7,84 1138.3,79.7 1145,77.8C1151.7,75.9 1160.2,72.8 1165,74C1169.8,75.2 1174,79.6 1174,85.3C1174,91 1169.8,100.5 1165,108C1160.2,115.5 1155,126.3 1145,130.5C1135,134.7 1111.7,140.5 1105,133C1098.3,125.5 1101.7,93.2 1105,85.3Z" fill="rgb(65,65,65)" filter="url(#d_b2_2)"/>
<path d="M1105,100.4C1108.3,95.3 1118.3,101.7 1125,100.4C1131.7,99.1 1139.5,93.2 1145,92.8C1150.5,92.4 1156.4,94.5 1157.7,97.9C1159,101.3 1155.7,108 1152.7,113C1149.8,118 1148,125 1140,128C1132,131 1110.8,135.6 1105,131C1099.2,126.4 1101.7,105.5 1105,100.4Z" fill="rgb(71,71,71)" filter="url(#d_b2_2)"/>
<ellipse cx="1125" cy="124.5" rx="10.5" ry="5.5" fill="rgb(85,85,85)" transform="rotate(-25 1125 124.5)" filter="url(#d_b2_0)"/>
<ellipse cx="1123" cy="125" rx="5" ry="3" fill="rgb(94,94,94)" transform="rotate(-25 1123 125)" filter="url(#d_b1_5)"/>
<path d="M1105,263.2C1108.3,240.7 1114.8,264.1 1125,263.2C1135.2,262.2 1155.2,259.9 1166,257.5C1176.8,255.1 1183.2,251.2 1190,248.5C1196.8,245.8 1202.3,242.2 1207,241.4C1211.7,240.7 1214.8,241.7 1218,244C1221.2,246.3 1222.5,251.2 1226,255C1229.5,258.8 1233.9,264 1238.7,267C1243.5,270 1249.5,272.4 1254.8,273C1260.1,273.6 1265.1,272.3 1270.8,270.3C1276.5,268.3 1283.6,265.2 1289.1,261.1C1294.6,257.1 1299.8,251.4 1304,246C1308.2,240.6 1312.1,233.9 1314.6,228.7C1317.1,223.5 1318.2,219.8 1319,215C1319.8,210.2 1320,205.8 1319.5,200C1319,194.2 1317.4,188.3 1316,180C1314.6,171.7 1313,159.2 1311,150C1309,140.8 1306.3,132.5 1304,125C1301.7,117.5 1298.2,110 1297,105C1295.8,100 1289,96.7 1297,95C1305,93.3 1337,62.5 1345,95C1353,127.5 1347.5,253.8 1345,290C1342.5,326.2 1337.5,304.2 1330,312C1322.5,319.8 1311.7,329.3 1300,337C1288.3,344.7 1273.3,352.2 1260,358C1246.7,363.8 1233.3,367 1220,372C1206.7,377 1199.2,383.7 1180,388C1160.8,392.3 1117.5,418.8 1105,398C1092.5,377.2 1101.7,285.7 1105,263.2Z" fill="rgb(54,54,54)" filter="url(#d_b2_3)"/>
<path d="M1105,282.4C1108.3,263.1 1114.8,283.5 1125,282.4C1135.2,281.2 1155.2,278.1 1166,275.5C1176.8,272.9 1183.5,269.4 1190,267C1196.5,264.6 1200.8,261.7 1205,261C1209.2,260.3 1211.8,261 1215,263C1218.2,265 1221.2,269.3 1224,273C1226.8,276.7 1228,282.2 1232,285C1236,287.8 1241.4,289.9 1247.9,290C1254.4,290.1 1263.6,288.1 1270.8,285.5C1278,282.9 1284.9,279.2 1291,274.5C1297.1,269.8 1302.8,263.4 1307.5,257.3C1312.2,251.2 1316.7,243.9 1319.5,238C1322.3,232.1 1323.7,227.5 1324.6,222C1325.5,216.5 1325.3,212.8 1325,205C1324.7,197.2 1324,184.2 1323,175C1322,165.8 1320.5,158.3 1319,150C1317.5,141.7 1315.7,132.5 1314,125C1312.3,117.5 1309.8,110 1309,105C1308.2,100 1303,96.7 1309,95C1315,93.3 1339,62.5 1345,95C1351,127.5 1347.5,253.8 1345,290C1342.5,326.2 1337.5,304.2 1330,312C1322.5,319.8 1311.7,329.3 1300,337C1288.3,344.7 1273.3,352.2 1260,358C1246.7,363.8 1233.3,367 1220,372C1206.7,377 1199.2,383.7 1180,388C1160.8,392.3 1117.5,415.6 1105,398C1092.5,380.4 1101.7,301.7 1105,282.4Z" fill="rgb(64,64,64)" filter="url(#d_b2_3)"/>
<path d="M1105,296C1108.3,279 1114.8,297.2 1125,296C1135.2,294.8 1155.2,291.2 1166,289C1176.8,286.8 1183.8,284.2 1190,282.5C1196.2,280.8 1199,278.8 1203,278.5C1207,278.2 1211,279.4 1214,281C1217,282.6 1218.7,285.5 1221,288C1223.3,290.5 1225,294.1 1227.8,296C1230.6,297.9 1234.7,299.1 1238,299.5C1241.3,299.9 1242.4,299.5 1247.9,298.5C1253.4,297.5 1263.2,296.3 1270.8,293.3C1278.4,290.3 1287,286 1293.7,280.7C1300.5,275.4 1306.5,268.4 1311.3,261.5C1316.1,254.6 1320.1,246 1322.7,239.4C1325.3,232.8 1326.1,227.7 1326.8,222C1327.5,216.3 1327.2,212.8 1327,205C1326.8,197.2 1326.2,184.2 1325.5,175C1324.8,165.8 1323.9,158.3 1323,150C1322.1,141.7 1321,132.5 1320,125C1319,117.5 1317.5,110 1317,105C1316.5,100 1312.3,96.7 1317,95C1321.7,93.3 1340.3,62.5 1345,95C1349.7,127.5 1347.5,253.8 1345,290C1342.5,326.2 1337.5,304.2 1330,312C1322.5,319.8 1311.7,329.3 1300,337C1288.3,344.7 1273.3,352.2 1260,358C1246.7,363.8 1233.3,367 1220,372C1206.7,377 1199.2,383.7 1180,388C1160.8,392.3 1117.5,413.3 1105,398C1092.5,382.7 1101.7,313 1105,296Z" fill="rgb(72,72,72)" filter="url(#d_b2_1)"/>
<path d="M1105,306.5C1108.3,291.2 1114.8,307.4 1125,306.5C1135.2,305.6 1155.5,302.8 1166,300.8C1176.5,298.8 1182.3,296 1188,294.5C1193.7,293 1196.3,291.7 1200.3,291.6C1204.3,291.5 1208.9,292.6 1212,294C1215.1,295.4 1216.8,298.1 1219,300C1221.2,301.9 1222.3,304 1225.5,305.4C1228.7,306.8 1234.3,308.2 1238,308.3C1241.7,308.4 1242.4,307.2 1247.9,306C1253.4,304.8 1263.2,303.8 1270.8,300.9C1278.4,297.9 1286.6,293.6 1293.7,288.3C1300.8,283 1308,276.1 1313.2,268.8C1318.4,261.6 1322.1,252.2 1324.7,244.8C1327.3,237.4 1327.9,231.7 1328.6,224.2C1329.3,216.7 1329.2,210.7 1329,200C1328.8,189.3 1328,171.7 1327.5,160C1327,148.3 1326.6,139.2 1326,130C1325.4,120.8 1324.3,110.8 1324,105C1323.7,99.2 1320.5,96.7 1324,95C1327.5,93.3 1341.5,62.5 1345,95C1348.5,127.5 1347.5,253.8 1345,290C1342.5,326.2 1337.5,304.2 1330,312C1322.5,319.8 1311.7,329.3 1300,337C1288.3,344.7 1273.3,352.2 1260,358C1246.7,363.8 1233.3,367 1220,372C1206.7,377 1199.2,383.7 1180,388C1160.8,392.3 1117.5,411.6 1105,398C1092.5,384.4 1101.7,321.8 1105,306.5Z" fill="rgb(81,81,81)" filter="url(#d_b2_0)"/>
<path d="M1105,320.5C1108.3,307.6 1114.8,321.5 1125,320.5C1135.2,319.5 1154.2,316.7 1166,314.5C1177.8,312.3 1188.7,308.4 1195.7,307.5C1202.7,306.6 1203.8,307.5 1208,309C1212.2,310.5 1216.5,314.8 1221,316.5C1225.5,318.2 1230.2,319 1235,319C1239.8,319 1244,318.2 1250,316.5C1256,314.8 1263.5,312.4 1270.8,309C1278.1,305.6 1286.5,301.7 1293.7,296.3C1301,290.9 1309,283.9 1314.3,276.9C1319.6,269.8 1323.2,261.3 1325.8,254C1328.4,246.7 1328.9,239.8 1329.9,233.3C1330.9,226.8 1329.5,218.6 1332,215C1334.5,211.4 1342.8,199.5 1345,212C1347.2,224.5 1347.5,273.3 1345,290C1342.5,306.7 1337.5,304.2 1330,312C1322.5,319.8 1311.7,329.3 1300,337C1288.3,344.7 1273.3,352.2 1260,358C1246.7,363.8 1233.3,367 1220,372C1206.7,377 1199.2,383.7 1180,388C1160.8,392.3 1117.5,409.2 1105,398C1092.5,386.8 1101.7,333.4 1105,320.5Z" fill="rgb(107,107,107)" filter="url(#d_b2_2)"/>
<path d="M1105,331C1108.3,319.8 1114.8,331.6 1125,331C1135.2,330.4 1154.3,328.7 1166,327.2C1177.7,325.7 1187.7,322.5 1195,322C1202.3,321.5 1205,322.9 1210,324C1215,325.1 1220,328.2 1225,328.5C1230,328.8 1234.7,327.5 1240,326C1245.3,324.5 1251.2,321.9 1257,319.5C1262.8,317.1 1268.9,314.2 1275,311.5C1281.1,308.8 1286.8,307.8 1293.7,303.2C1300.6,298.6 1310.9,290.4 1316.6,283.7C1322.3,277 1325.6,269.2 1328.1,263.1C1330.6,257 1328.7,250.8 1331.5,247C1334.3,243.2 1342.8,232.8 1345,240C1347.2,247.2 1347.5,278 1345,290C1342.5,302 1337.5,304.2 1330,312C1322.5,319.8 1311.7,329.3 1300,337C1288.3,344.7 1273.3,352.2 1260,358C1246.7,363.8 1233.3,367 1220,372C1206.7,377 1199.2,383.7 1180,388C1160.8,392.3 1117.5,407.5 1105,398C1092.5,388.5 1101.7,342.2 1105,331Z" fill="rgb(128,128,128)" filter="url(#d_b2_5)"/>
<path d="M1329.5,100L1345,100L1345,215L1330.5,215L1329.5,160Z" fill="rgb(92,92,92)" filter="url(#d_b1_5)"/>
<ellipse cx="1334.5" cy="110" rx="4.5" ry="9" fill="rgb(145,145,145)" filter="url(#d_b1_5)"/>
<path d="M1111,392.2L1114,392.2L1117,392.2L1120.1,392.2L1123.3,392.1L1126.5,391.9L1129.7,391.6L1132.8,391.2L1135.8,390.8L1138.9,390.4L1141.9,389.9L1144.9,389.4L1147.9,388.9L1151,388.3L1154,387.7L1157,387.1L1160,386.4L1162.9,385.7L1165.9,385L1168.9,384.3L1171.9,383.5L1174.9,382.7L1178,381.7L1181,380.7L1183.9,379.6L1186.8,378.4L1189.7,377.2L1192.5,376L1195.3,374.8L1198.1,373.6L1200.9,372.2L1203.7,370.9L1206.3,369.6L1209,368.3L1205.5,361L1202.3,361.2L1199,361.4L1195.9,361.7L1192.8,362L1189.8,362.3L1186.6,362.5L1183.6,362.9L1180.9,364L1178.3,365L1175.6,365.8L1173,366.6L1170.4,367.4L1167.7,368L1165,368.6L1162.1,369.2L1159.2,369.8L1156.3,370.4L1153.5,371L1150.6,371.5L1147.8,371.9L1144.9,372.4L1142.1,372.8L1139.2,373.1L1136.3,373.5L1133.5,373.8L1130.6,374.1L1127.8,374.3L1125.1,374.5L1122.4,374.5L1119.8,374.5L1117,374.4L1114.1,374.3L1111.1,374.2Z" fill="url(#d_g1)" filter="url(#d_b1_8)"/>
<path d="M1105,350.2C1110.8,345.6 1130,349.6 1140,348.7C1150,347.8 1157.7,346 1165,345C1172.3,344 1177.8,342.8 1183.6,342.5C1189.4,342.2 1195.3,342.5 1200,343C1204.7,343.5 1209.3,344 1212,345.5C1214.7,347 1217,349.6 1216,352C1215,354.4 1210.3,357.8 1206,360C1201.7,362.2 1195.8,363.8 1190,365.5C1184.2,367.2 1177,368.8 1171,370C1165,371.2 1161.7,372 1154,373C1146.3,374 1133.2,375.4 1125,376C1116.8,376.6 1108.3,380.6 1105,376.3C1101.7,372 1099.2,354.8 1105,350.2Z" fill="rgb(158,158,158)" filter="url(#d_b2_2)"/>
<path d="M1203,351C1204.5,348.5 1209.2,346.5 1211.7,345C1214.2,343.5 1212.9,343.8 1217.7,341.8C1222.5,339.8 1232.8,335.5 1240.4,332.8C1248,330.1 1256.5,327.5 1263.1,325.4C1269.7,323.3 1274.9,322.3 1280.1,320.3C1285.2,318.3 1290.3,315.4 1294,313.5C1297.7,311.6 1299.7,308.8 1302,309C1304.3,309.2 1308.3,312 1308,315C1307.7,318 1308,320.8 1300,327C1292,333.2 1271.7,346.2 1260,352C1248.3,357.8 1238.3,359.7 1230,362C1221.7,364.3 1214.5,366.3 1210,366C1205.5,365.7 1204.2,362.5 1203,360C1201.8,357.5 1201.5,353.5 1203,351Z" fill="rgb(158,158,158)" filter="url(#d_b2_0)"/>
<ellipse cx="1135" cy="364.6" rx="40" ry="8" fill="rgb(194,194,194)" transform="rotate(-10.5 1135 364.6)" filter="url(#d_b2_3)"/>
<path d="M1209,356C1209.5,353.1 1212.5,350.2 1217.7,347.5C1222.9,344.8 1232.8,342.2 1240.4,339.6C1248,337 1256.5,334.1 1263.1,331.6C1269.7,329.1 1276.1,326.5 1280.1,324.8C1284.1,323.1 1285,321.1 1287,321.5C1289,321.9 1294.8,323.1 1292,327C1289.2,330.9 1278.7,340 1270,345C1261.3,350 1249.2,353.7 1240,357C1230.8,360.3 1220.2,365.2 1215,365C1209.8,364.8 1208.5,358.9 1209,356Z" fill="rgb(189,189,189)" filter="url(#d_b1_8)"/>
<ellipse cx="1130" cy="366.3" rx="31" ry="5.6" fill="rgb(224,224,224)" transform="rotate(-10 1130 366.3)" filter="url(#d_b2_0)"/>
<path d="M1212,356.6C1213,356.2 1213,355.8 1217.7,354.3C1222.4,352.8 1233.8,349.7 1240.4,347.5C1247,345.3 1253.3,343 1257.4,341.3C1261.5,339.6 1263.7,338.1 1265,337.5" fill="none" stroke="rgb(224,224,224)" stroke-width="4.3" stroke-linecap="round" stroke-linejoin="round" filter="url(#d_b1_3)"/>
<g filter="url(#d_b0_9)"><circle cx="1263.7" cy="337.1" r="2.2" fill="rgb(230,230,230)"/><circle cx="1276.3" cy="330.4" r="2.2" fill="rgb(217,217,217)"/><circle cx="1286.6" cy="323.1" r="2.2" fill="rgb(204,204,204)"/></g>
<g filter="url(#d_b0_9)"><circle cx="1292.6" cy="317.5" r="2.3" fill="rgb(184,184,184)"/><circle cx="1300.8" cy="310.3" r="2.3" fill="rgb(170,170,170)"/><circle cx="1308.9" cy="303.5" r="2.3" fill="rgb(156,156,156)"/><circle cx="1316.8" cy="296.5" r="2.3" fill="rgb(142,142,142)"/><circle cx="1324.6" cy="289.3" r="2.3" fill="rgb(128,128,128)"/></g>
</g></g></g>
<path d="M170,27L170,105L256.2,105" fill="none" stroke="rgb(80,44,134)" stroke-width="1.3" opacity="0.55"/>
<path d="M519.6,28L519.6,106L609.4,106" fill="none" stroke="rgb(80,44,134)" stroke-width="1.3" opacity="0.55"/>
<path d="M875.8,27.5L875.8,105.5L962.9,105.5" fill="none" stroke="rgb(80,44,134)" stroke-width="1.3" opacity="0.55"/>
<path d="M1234.6,27L1234.6,104.8L1324.6,104.8" fill="none" stroke="rgb(80,44,134)" stroke-width="1.3" opacity="0.55"/>
<g><rect x="273" y="403.92" width="12" height="6.28" fill="rgb(62,46,138)"/><rect x="273" y="397.93" width="12" height="6.28" fill="rgb(63,46,138)"/><rect x="273" y="391.95" width="12" height="6.28" fill="rgb(64,46,138)"/><rect x="273" y="385.97" width="12" height="6.28" fill="rgb(65,45,137)"/><rect x="273" y="379.99" width="12" height="6.28" fill="rgb(66,45,137)"/><rect x="273" y="374.00" width="12" height="6.28" fill="rgb(67,45,137)"/><rect x="273" y="368.02" width="12" height="6.28" fill="rgb(68,45,137)"/><rect x="273" y="362.04" width="12" height="6.28" fill="rgb(67,45,137)"/><rect x="273" y="356.05" width="12" height="6.28" fill="rgb(66,46,137)"/><rect x="273" y="350.07" width="12" height="6.28" fill="rgb(64,47,138)"/><rect x="273" y="344.09" width="12" height="6.28" fill="rgb(62,48,139)"/><rect x="273" y="338.11" width="12" height="6.28" fill="rgb(63,54,146)"/><rect x="273" y="332.12" width="12" height="6.28" fill="rgb(64,67,157)"/><rect x="273" y="326.14" width="12" height="6.28" fill="rgb(65,82,168)"/><rect x="273" y="320.16" width="12" height="6.28" fill="rgb(67,98,178)"/><rect x="273" y="314.17" width="12" height="6.28" fill="rgb(68,112,187)"/><rect x="273" y="308.19" width="12" height="6.28" fill="rgb(69,125,196)"/><rect x="273" y="302.21" width="12" height="6.28" fill="rgb(68,139,206)"/><rect x="273" y="296.23" width="12" height="6.28" fill="rgb(56,154,218)"/><rect x="273" y="290.24" width="12" height="6.28" fill="rgb(48,171,227)"/><rect x="273" y="284.26" width="12" height="6.28" fill="rgb(70,189,229)"/><rect x="273" y="278.28" width="12" height="6.28" fill="rgb(96,198,221)"/><rect x="273" y="272.30" width="12" height="6.28" fill="rgb(113,202,212)"/><rect x="273" y="266.31" width="12" height="6.28" fill="rgb(121,203,205)"/><rect x="273" y="260.33" width="12" height="6.28" fill="rgb(125,203,197)"/><rect x="273" y="254.35" width="12" height="6.28" fill="rgb(129,202,186)"/><rect x="273" y="248.36" width="12" height="6.28" fill="rgb(132,201,175)"/><rect x="273" y="242.38" width="12" height="6.28" fill="rgb(132,198,159)"/><rect x="273" y="236.40" width="12" height="6.28" fill="rgb(132,196,145)"/><rect x="273" y="230.42" width="12" height="6.28" fill="rgb(133,195,134)"/><rect x="273" y="224.43" width="12" height="6.28" fill="rgb(136,195,123)"/><rect x="273" y="218.45" width="12" height="6.28" fill="rgb(143,195,114)"/><rect x="273" y="212.47" width="12" height="6.28" fill="rgb(152,197,103)"/><rect x="273" y="206.48" width="12" height="6.28" fill="rgb(163,198,92)"/><rect x="273" y="200.50" width="12" height="6.28" fill="rgb(175,201,81)"/><rect x="273" y="194.52" width="12" height="6.28" fill="rgb(189,206,69)"/><rect x="273" y="188.54" width="12" height="6.28" fill="rgb(205,211,56)"/><rect x="273" y="182.55" width="12" height="6.28" fill="rgb(224,218,43)"/><rect x="273" y="176.57" width="12" height="6.28" fill="rgb(241,226,32)"/><rect x="273" y="170.59" width="12" height="6.28" fill="rgb(250,225,25)"/><rect x="273" y="164.60" width="12" height="6.28" fill="rgb(252,216,25)"/><rect x="273" y="158.62" width="12" height="6.28" fill="rgb(251,206,26)"/><rect x="273" y="152.64" width="12" height="6.28" fill="rgb(250,195,27)"/><rect x="273" y="146.66" width="12" height="6.28" fill="rgb(248,185,28)"/><rect x="273" y="140.67" width="12" height="6.28" fill="rgb(247,175,28)"/><rect x="273" y="134.69" width="12" height="6.28" fill="rgb(246,165,28)"/><rect x="273" y="128.71" width="12" height="6.28" fill="rgb(245,156,28)"/><rect x="273" y="122.73" width="12" height="6.28" fill="rgb(244,146,28)"/><rect x="273" y="116.74" width="12" height="6.28" fill="rgb(242,133,28)"/><rect x="273" y="110.76" width="12" height="6.28" fill="rgb(241,123,29)"/><rect x="273" y="104.78" width="12" height="6.28" fill="rgb(239,113,30)"/><rect x="273" y="98.79" width="12" height="6.28" fill="rgb(238,102,31)"/><rect x="273" y="92.81" width="12" height="6.28" fill="rgb(237,92,33)"/><rect x="273" y="86.83" width="12" height="6.28" fill="rgb(236,82,34)"/><rect x="273" y="80.85" width="12" height="6.28" fill="rgb(234,73,35)"/><rect x="273" y="74.86" width="12" height="6.28" fill="rgb(233,66,35)"/><rect x="273" y="68.88" width="12" height="6.28" fill="rgb(232,60,35)"/><rect x="273" y="62.90" width="12" height="6.28" fill="rgb(229,54,35)"/><rect x="273" y="56.91" width="12" height="6.28" fill="rgb(227,49,35)"/><rect x="273" y="50.93" width="12" height="6.28" fill="rgb(219,46,35)"/><rect x="273" y="44.95" width="12" height="6.28" fill="rgb(204,43,35)"/><rect x="273" y="38.97" width="12" height="6.28" fill="rgb(181,40,34)"/><rect x="273" y="32.98" width="12" height="6.28" fill="rgb(156,37,31)"/><rect x="273" y="27.00" width="12" height="6.28" fill="rgb(134,34,30)"/><rect x="282" y="59" width="3" height="0.7" fill="#222" opacity="0.55"/><rect x="282" y="116.2" width="3" height="0.7" fill="#222" opacity="0.55"/><rect x="282" y="174.3" width="3" height="0.7" fill="#222" opacity="0.55"/><rect x="282" y="232.4" width="3" height="0.7" fill="#222" opacity="0.55"/><rect x="282" y="294.3" width="3" height="0.7" fill="#222" opacity="0.55"/><rect x="282" y="352.7" width="3" height="0.7" fill="#222" opacity="0.55"/><text x="55.6" y="39.1" font-size="17.5" text-anchor="end">100</text><text x="55.6" y="76" font-size="17.5" text-anchor="end">50</text><text x="55.6" y="116.2" font-size="17.5" text-anchor="end">0</text><text x="55.6" y="149.4" font-size="17.5" text-anchor="end">-50</text><text x="55.6" y="189.2" font-size="17.5" text-anchor="end">-100</text><text x="55.6" y="226.2" font-size="17.5" text-anchor="end">-150</text><text x="55.6" y="265.6" font-size="17.5" text-anchor="end">-200</text><text x="55.6" y="300.2" font-size="17.5" text-anchor="end">-250</text><text x="55.6" y="336.9" font-size="17.5" text-anchor="end">-300</text><text x="55.6" y="377.9" font-size="17.5" text-anchor="end">-350</text><text x="55.6" y="414.6" font-size="17.5" text-anchor="end">-400</text><text x="58.9" y="427.6" font-size="17.5" text-anchor="middle">0</text><text x="99.6" y="427.6" font-size="17.5" text-anchor="middle">50</text><text x="142.5" y="427.6" font-size="17.5" text-anchor="middle">100</text><text x="179.5" y="427.6" font-size="17.5" text-anchor="middle">150</text><text x="214.3" y="427.6" font-size="17.5" text-anchor="middle">200</text><text x="254.5" y="427.6" font-size="17.5" text-anchor="middle">250</text><text x="160.5" y="449.3" font-size="21.5" text-anchor="middle">r [µm]</text><text x="15.2" y="222.3" font-size="21.5" text-anchor="middle" transform="rotate(-90 15.2 222.3)">z [µm]</text><text x="82.5" y="19.4" font-size="21.8">Au target</text><text x="264" y="18" font-size="22.5" font-weight="bold">a)</text><text x="289.3" y="65.5" font-size="17.5">30</text><text x="289.3" y="122.8" font-size="17.5">25</text><text x="289.3" y="180.8" font-size="17.5">20</text><text x="289.3" y="238.9" font-size="17.5">15</text><text x="289.3" y="300.9" font-size="17.5">10</text><text x="289.3" y="359.2" font-size="17.5">5</text><text x="326.5" y="216" font-size="21.5" text-anchor="middle" transform="rotate(-90 326.5 216)">pressure, Mbar</text></g>
<g><rect x="626.5" y="404.33" width="11.7" height="6.27" fill="rgb(62,46,138)"/><rect x="626.5" y="398.35" width="11.7" height="6.27" fill="rgb(63,46,138)"/><rect x="626.5" y="392.38" width="11.7" height="6.27" fill="rgb(64,46,138)"/><rect x="626.5" y="386.41" width="11.7" height="6.27" fill="rgb(65,45,137)"/><rect x="626.5" y="380.43" width="11.7" height="6.27" fill="rgb(66,45,137)"/><rect x="626.5" y="374.46" width="11.7" height="6.27" fill="rgb(67,45,137)"/><rect x="626.5" y="368.49" width="11.7" height="6.27" fill="rgb(68,45,137)"/><rect x="626.5" y="362.51" width="11.7" height="6.27" fill="rgb(67,45,137)"/><rect x="626.5" y="356.54" width="11.7" height="6.27" fill="rgb(66,46,137)"/><rect x="626.5" y="350.57" width="11.7" height="6.27" fill="rgb(64,47,138)"/><rect x="626.5" y="344.59" width="11.7" height="6.27" fill="rgb(62,48,139)"/><rect x="626.5" y="338.62" width="11.7" height="6.27" fill="rgb(63,54,146)"/><rect x="626.5" y="332.65" width="11.7" height="6.27" fill="rgb(64,67,157)"/><rect x="626.5" y="326.67" width="11.7" height="6.27" fill="rgb(65,82,168)"/><rect x="626.5" y="320.70" width="11.7" height="6.27" fill="rgb(67,98,178)"/><rect x="626.5" y="314.73" width="11.7" height="6.27" fill="rgb(68,112,187)"/><rect x="626.5" y="308.75" width="11.7" height="6.27" fill="rgb(69,125,196)"/><rect x="626.5" y="302.78" width="11.7" height="6.27" fill="rgb(68,139,206)"/><rect x="626.5" y="296.80" width="11.7" height="6.27" fill="rgb(56,154,218)"/><rect x="626.5" y="290.83" width="11.7" height="6.27" fill="rgb(48,171,227)"/><rect x="626.5" y="284.86" width="11.7" height="6.27" fill="rgb(70,189,229)"/><rect x="626.5" y="278.88" width="11.7" height="6.27" fill="rgb(96,198,221)"/><rect x="626.5" y="272.91" width="11.7" height="6.27" fill="rgb(113,202,212)"/><rect x="626.5" y="266.94" width="11.7" height="6.27" fill="rgb(121,203,205)"/><rect x="626.5" y="260.96" width="11.7" height="6.27" fill="rgb(125,203,197)"/><rect x="626.5" y="254.99" width="11.7" height="6.27" fill="rgb(129,202,186)"/><rect x="626.5" y="249.02" width="11.7" height="6.27" fill="rgb(132,201,175)"/><rect x="626.5" y="243.04" width="11.7" height="6.27" fill="rgb(132,198,159)"/><rect x="626.5" y="237.07" width="11.7" height="6.27" fill="rgb(132,196,145)"/><rect x="626.5" y="231.10" width="11.7" height="6.27" fill="rgb(133,195,134)"/><rect x="626.5" y="225.12" width="11.7" height="6.27" fill="rgb(136,195,123)"/><rect x="626.5" y="219.15" width="11.7" height="6.27" fill="rgb(143,195,114)"/><rect x="626.5" y="213.18" width="11.7" height="6.27" fill="rgb(152,197,103)"/><rect x="626.5" y="207.20" width="11.7" height="6.27" fill="rgb(163,198,92)"/><rect x="626.5" y="201.23" width="11.7" height="6.27" fill="rgb(175,201,81)"/><rect x="626.5" y="195.26" width="11.7" height="6.27" fill="rgb(189,206,69)"/><rect x="626.5" y="189.28" width="11.7" height="6.27" fill="rgb(205,211,56)"/><rect x="626.5" y="183.31" width="11.7" height="6.27" fill="rgb(224,218,43)"/><rect x="626.5" y="177.34" width="11.7" height="6.27" fill="rgb(241,226,32)"/><rect x="626.5" y="171.36" width="11.7" height="6.27" fill="rgb(250,225,25)"/><rect x="626.5" y="165.39" width="11.7" height="6.27" fill="rgb(252,216,25)"/><rect x="626.5" y="159.42" width="11.7" height="6.27" fill="rgb(251,206,26)"/><rect x="626.5" y="153.44" width="11.7" height="6.27" fill="rgb(250,195,27)"/><rect x="626.5" y="147.47" width="11.7" height="6.27" fill="rgb(248,185,28)"/><rect x="626.5" y="141.50" width="11.7" height="6.27" fill="rgb(247,175,28)"/><rect x="626.5" y="135.52" width="11.7" height="6.27" fill="rgb(246,165,28)"/><rect x="626.5" y="129.55" width="11.7" height="6.27" fill="rgb(245,156,28)"/><rect x="626.5" y="123.57" width="11.7" height="6.27" fill="rgb(244,146,28)"/><rect x="626.5" y="117.60" width="11.7" height="6.27" fill="rgb(242,133,28)"/><rect x="626.5" y="111.63" width="11.7" height="6.27" fill="rgb(241,123,29)"/><rect x="626.5" y="105.65" width="11.7" height="6.27" fill="rgb(239,113,30)"/><rect x="626.5" y="99.68" width="11.7" height="6.27" fill="rgb(238,102,31)"/><rect x="626.5" y="93.71" width="11.7" height="6.27" fill="rgb(237,92,33)"/><rect x="626.5" y="87.73" width="11.7" height="6.27" fill="rgb(236,82,34)"/><rect x="626.5" y="81.76" width="11.7" height="6.27" fill="rgb(234,73,35)"/><rect x="626.5" y="75.79" width="11.7" height="6.27" fill="rgb(233,66,35)"/><rect x="626.5" y="69.81" width="11.7" height="6.27" fill="rgb(232,60,35)"/><rect x="626.5" y="63.84" width="11.7" height="6.27" fill="rgb(229,54,35)"/><rect x="626.5" y="57.87" width="11.7" height="6.27" fill="rgb(227,49,35)"/><rect x="626.5" y="51.89" width="11.7" height="6.27" fill="rgb(219,46,35)"/><rect x="626.5" y="45.92" width="11.7" height="6.27" fill="rgb(204,43,35)"/><rect x="626.5" y="39.95" width="11.7" height="6.27" fill="rgb(181,40,34)"/><rect x="626.5" y="33.97" width="11.7" height="6.27" fill="rgb(156,37,31)"/><rect x="626.5" y="28.00" width="11.7" height="6.27" fill="rgb(134,34,30)"/><rect x="635.2" y="87" width="3" height="0.7" fill="#222" opacity="0.55"/><rect x="635.2" y="150.3" width="3" height="0.7" fill="#222" opacity="0.55"/><rect x="635.2" y="214.5" width="3" height="0.7" fill="#222" opacity="0.55"/><rect x="635.2" y="278.7" width="3" height="0.7" fill="#222" opacity="0.55"/><rect x="635.2" y="346" width="3" height="0.7" fill="#222" opacity="0.55"/><text x="407.5" y="39.1" font-size="17.5" text-anchor="end">100</text><text x="407.5" y="76" font-size="17.5" text-anchor="end">50</text><text x="407.5" y="116.2" font-size="17.5" text-anchor="end">0</text><text x="407.5" y="149.4" font-size="17.5" text-anchor="end">-50</text><text x="407.5" y="189.2" font-size="17.5" text-anchor="end">-100</text><text x="407.5" y="226.2" font-size="17.5" text-anchor="end">-150</text><text x="407.5" y="265.6" font-size="17.5" text-anchor="end">-200</text><text x="407.5" y="300.2" font-size="17.5" text-anchor="end">-250</text><text x="407.5" y="336.9" font-size="17.5" text-anchor="end">-300</text><text x="407.5" y="377.9" font-size="17.5" text-anchor="end">-350</text><text x="407.5" y="414.6" font-size="17.5" text-anchor="end">-400</text><text x="409.5" y="427.6" font-size="17.5" text-anchor="middle">0</text><text x="450.2" y="427.6" font-size="17.5" text-anchor="middle">50</text><text x="493.1" y="427.6" font-size="17.5" text-anchor="middle">100</text><text x="530.1" y="427.6" font-size="17.5" text-anchor="middle">150</text><text x="564.9" y="427.6" font-size="17.5" text-anchor="middle">200</text><text x="605.1" y="427.6" font-size="17.5" text-anchor="middle">250</text><text x="511.1" y="449.3" font-size="21.5" text-anchor="middle">r [µm]</text><text x="365.8" y="222.3" font-size="21.5" text-anchor="middle" transform="rotate(-90 365.8 222.3)">z [µm]</text><path d="M408.7,24.4L407.9,30.9" stroke="#2a2a2a" stroke-width="0.8" opacity="0.2" fill="none"/><path d="M408.7,61.2L407.9,67.8" stroke="#2a2a2a" stroke-width="0.8" opacity="0.2" fill="none"/><path d="M408.7,101.5L407.9,108" stroke="#2a2a2a" stroke-width="0.8" opacity="0.2" fill="none"/><text x="432.5" y="19" font-size="21.8">Cu target</text><text x="613.3" y="18" font-size="22.5" font-weight="bold">b)</text><text x="640.5" y="93.5" font-size="17.5">25</text><text x="640.5" y="156.8" font-size="17.5">20</text><text x="640.5" y="221.1" font-size="17.5">15</text><text x="640.5" y="285.2" font-size="17.5">10</text><text x="640.5" y="352.6" font-size="17.5">5</text><text x="676.5" y="216" font-size="21.5" text-anchor="middle" transform="rotate(-90 676.5 216)">pressure, Mbar</text></g>
<g><rect x="979.5" y="404.61" width="11.8" height="6.29" fill="rgb(62,46,138)"/><rect x="979.5" y="398.63" width="11.8" height="6.29" fill="rgb(63,46,138)"/><rect x="979.5" y="392.64" width="11.8" height="6.29" fill="rgb(64,46,138)"/><rect x="979.5" y="386.66" width="11.8" height="6.29" fill="rgb(65,45,137)"/><rect x="979.5" y="380.67" width="11.8" height="6.29" fill="rgb(66,45,137)"/><rect x="979.5" y="374.68" width="11.8" height="6.29" fill="rgb(67,45,137)"/><rect x="979.5" y="368.70" width="11.8" height="6.29" fill="rgb(68,45,137)"/><rect x="979.5" y="362.71" width="11.8" height="6.29" fill="rgb(67,45,137)"/><rect x="979.5" y="356.73" width="11.8" height="6.29" fill="rgb(66,46,137)"/><rect x="979.5" y="350.74" width="11.8" height="6.29" fill="rgb(64,47,138)"/><rect x="979.5" y="344.75" width="11.8" height="6.29" fill="rgb(62,48,139)"/><rect x="979.5" y="338.77" width="11.8" height="6.29" fill="rgb(63,54,146)"/><rect x="979.5" y="332.78" width="11.8" height="6.29" fill="rgb(64,67,157)"/><rect x="979.5" y="326.80" width="11.8" height="6.29" fill="rgb(65,82,168)"/><rect x="979.5" y="320.81" width="11.8" height="6.29" fill="rgb(67,98,178)"/><rect x="979.5" y="314.83" width="11.8" height="6.29" fill="rgb(68,112,187)"/><rect x="979.5" y="308.84" width="11.8" height="6.29" fill="rgb(69,125,196)"/><rect x="979.5" y="302.85" width="11.8" height="6.29" fill="rgb(68,139,206)"/><rect x="979.5" y="296.87" width="11.8" height="6.29" fill="rgb(56,154,218)"/><rect x="979.5" y="290.88" width="11.8" height="6.29" fill="rgb(48,171,227)"/><rect x="979.5" y="284.90" width="11.8" height="6.29" fill="rgb(70,189,229)"/><rect x="979.5" y="278.91" width="11.8" height="6.29" fill="rgb(96,198,221)"/><rect x="979.5" y="272.92" width="11.8" height="6.29" fill="rgb(113,202,212)"/><rect x="979.5" y="266.94" width="11.8" height="6.29" fill="rgb(121,203,205)"/><rect x="979.5" y="260.95" width="11.8" height="6.29" fill="rgb(125,203,197)"/><rect x="979.5" y="254.97" width="11.8" height="6.29" fill="rgb(129,202,186)"/><rect x="979.5" y="248.98" width="11.8" height="6.29" fill="rgb(132,201,175)"/><rect x="979.5" y="242.99" width="11.8" height="6.29" fill="rgb(132,198,159)"/><rect x="979.5" y="237.01" width="11.8" height="6.29" fill="rgb(132,196,145)"/><rect x="979.5" y="231.02" width="11.8" height="6.29" fill="rgb(133,195,134)"/><rect x="979.5" y="225.04" width="11.8" height="6.29" fill="rgb(136,195,123)"/><rect x="979.5" y="219.05" width="11.8" height="6.29" fill="rgb(143,195,114)"/><rect x="979.5" y="213.06" width="11.8" height="6.29" fill="rgb(152,197,103)"/><rect x="979.5" y="207.08" width="11.8" height="6.29" fill="rgb(163,198,92)"/><rect x="979.5" y="201.09" width="11.8" height="6.29" fill="rgb(175,201,81)"/><rect x="979.5" y="195.11" width="11.8" height="6.29" fill="rgb(189,206,69)"/><rect x="979.5" y="189.12" width="11.8" height="6.29" fill="rgb(205,211,56)"/><rect x="979.5" y="183.13" width="11.8" height="6.29" fill="rgb(224,218,43)"/><rect x="979.5" y="177.15" width="11.8" height="6.29" fill="rgb(241,226,32)"/><rect x="979.5" y="171.16" width="11.8" height="6.29" fill="rgb(250,225,25)"/><rect x="979.5" y="165.18" width="11.8" height="6.29" fill="rgb(252,216,25)"/><rect x="979.5" y="159.19" width="11.8" height="6.29" fill="rgb(251,206,26)"/><rect x="979.5" y="153.20" width="11.8" height="6.29" fill="rgb(250,195,27)"/><rect x="979.5" y="147.22" width="11.8" height="6.29" fill="rgb(248,185,28)"/><rect x="979.5" y="141.23" width="11.8" height="6.29" fill="rgb(247,175,28)"/><rect x="979.5" y="135.25" width="11.8" height="6.29" fill="rgb(246,165,28)"/><rect x="979.5" y="129.26" width="11.8" height="6.29" fill="rgb(245,156,28)"/><rect x="979.5" y="123.27" width="11.8" height="6.29" fill="rgb(244,146,28)"/><rect x="979.5" y="117.29" width="11.8" height="6.29" fill="rgb(242,133,28)"/><rect x="979.5" y="111.30" width="11.8" height="6.29" fill="rgb(241,123,29)"/><rect x="979.5" y="105.32" width="11.8" height="6.29" fill="rgb(239,113,30)"/><rect x="979.5" y="99.33" width="11.8" height="6.29" fill="rgb(238,102,31)"/><rect x="979.5" y="93.35" width="11.8" height="6.29" fill="rgb(237,92,33)"/><rect x="979.5" y="87.36" width="11.8" height="6.29" fill="rgb(236,82,34)"/><rect x="979.5" y="81.37" width="11.8" height="6.29" fill="rgb(234,73,35)"/><rect x="979.5" y="75.39" width="11.8" height="6.29" fill="rgb(233,66,35)"/><rect x="979.5" y="69.40" width="11.8" height="6.29" fill="rgb(232,60,35)"/><rect x="979.5" y="63.42" width="11.8" height="6.29" fill="rgb(229,54,35)"/><rect x="979.5" y="57.43" width="11.8" height="6.29" fill="rgb(227,49,35)"/><rect x="979.5" y="51.44" width="11.8" height="6.29" fill="rgb(219,46,35)"/><rect x="979.5" y="45.46" width="11.8" height="6.29" fill="rgb(204,43,35)"/><rect x="979.5" y="39.47" width="11.8" height="6.29" fill="rgb(181,40,34)"/><rect x="979.5" y="33.49" width="11.8" height="6.29" fill="rgb(156,37,31)"/><rect x="979.5" y="27.50" width="11.8" height="6.29" fill="rgb(134,34,30)"/><rect x="988.3" y="44.2" width="3" height="0.7" fill="#222" opacity="0.55"/><rect x="988.3" y="80.2" width="3" height="0.7" fill="#222" opacity="0.55"/><rect x="988.3" y="116.2" width="3" height="0.7" fill="#222" opacity="0.55"/><rect x="988.3" y="153.3" width="3" height="0.7" fill="#222" opacity="0.55"/><rect x="988.3" y="189.4" width="3" height="0.7" fill="#222" opacity="0.55"/><rect x="988.3" y="226.7" width="3" height="0.7" fill="#222" opacity="0.55"/><rect x="988.3" y="264.7" width="3" height="0.7" fill="#222" opacity="0.55"/><rect x="988.3" y="301.7" width="3" height="0.7" fill="#222" opacity="0.55"/><rect x="988.3" y="338.4" width="3" height="0.7" fill="#222" opacity="0.55"/><rect x="988.3" y="375.1" width="3" height="0.7" fill="#222" opacity="0.55"/><rect x="988.3" y="409.1" width="3" height="0.7" fill="#222" opacity="0.55"/><text x="758.6" y="39.1" font-size="17.5" text-anchor="end">100</text><text x="758.6" y="76" font-size="17.5" text-anchor="end">50</text><text x="758.6" y="116.2" font-size="17.5" text-anchor="end">0</text><text x="758.6" y="149.4" font-size="17.5" text-anchor="end">-50</text><text x="758.6" y="189.2" font-size="17.5" text-anchor="end">-100</text><text x="758.6" y="226.2" font-size="17.5" text-anchor="end">-150</text><text x="758.6" y="265.6" font-size="17.5" text-anchor="end">-200</text><text x="758.6" y="300.2" font-size="17.5" text-anchor="end">-250</text><text x="758.6" y="336.9" font-size="17.5" text-anchor="end">-300</text><text x="758.6" y="377.9" font-size="17.5" text-anchor="end">-350</text><text x="758.6" y="414.6" font-size="17.5" text-anchor="end">-400</text><text x="761.9" y="427.6" font-size="17.5" text-anchor="middle">0</text><text x="802.6" y="427.6" font-size="17.5" text-anchor="middle">50</text><text x="845.5" y="427.6" font-size="17.5" text-anchor="middle">100</text><text x="882.5" y="427.6" font-size="17.5" text-anchor="middle">150</text><text x="917.3" y="427.6" font-size="17.5" text-anchor="middle">200</text><text x="957.5" y="427.6" font-size="17.5" text-anchor="middle">250</text><text x="863.5" y="449.3" font-size="21.5" text-anchor="middle">r [µm]</text><text x="718.2" y="222.3" font-size="21.5" text-anchor="middle" transform="rotate(-90 718.2 222.3)">z [µm]</text><path d="M760.3,24.4L759.5,30.9" stroke="#2a2a2a" stroke-width="0.8" opacity="0.3" fill="none"/><path d="M760.3,61.2L759.5,67.8" stroke="#2a2a2a" stroke-width="0.8" opacity="0.3" fill="none"/><path d="M760.3,101.5L759.5,108" stroke="#2a2a2a" stroke-width="0.8" opacity="0.3" fill="none"/><text x="784.5" y="18.8" font-size="21.8">Al target</text><text x="974.6" y="18" font-size="22.5" font-weight="bold">c)</text><text x="992.8" y="50.8" font-size="17.5">20</text><text x="992.8" y="86.8" font-size="17.5">18</text><text x="992.8" y="122.8" font-size="17.5">16</text><text x="992.8" y="159.8" font-size="17.5">14</text><text x="992.8" y="195.9" font-size="17.5">12</text><text x="992.8" y="233.2" font-size="17.5">10</text><text x="992.8" y="271.2" font-size="17.5">8</text><text x="992.8" y="308.2" font-size="17.5">6</text><text x="992.8" y="344.9" font-size="17.5">4</text><text x="992.8" y="381.6" font-size="17.5">2</text><text x="992.8" y="415.6" font-size="17.5">0</text><text x="1029.5" y="216" font-size="21.5" text-anchor="middle" transform="rotate(-90 1029.5 216)">pressure, Mbar</text></g>
<g><rect x="1341.4" y="404.31" width="11.1" height="6.29" fill="rgb(62,46,138)"/><rect x="1341.4" y="398.32" width="11.1" height="6.29" fill="rgb(63,46,138)"/><rect x="1341.4" y="392.33" width="11.1" height="6.29" fill="rgb(64,46,138)"/><rect x="1341.4" y="386.34" width="11.1" height="6.29" fill="rgb(65,45,137)"/><rect x="1341.4" y="380.35" width="11.1" height="6.29" fill="rgb(66,45,137)"/><rect x="1341.4" y="374.37" width="11.1" height="6.29" fill="rgb(67,45,137)"/><rect x="1341.4" y="368.38" width="11.1" height="6.29" fill="rgb(68,45,137)"/><rect x="1341.4" y="362.39" width="11.1" height="6.29" fill="rgb(67,45,137)"/><rect x="1341.4" y="356.40" width="11.1" height="6.29" fill="rgb(66,46,137)"/><rect x="1341.4" y="350.41" width="11.1" height="6.29" fill="rgb(64,47,138)"/><rect x="1341.4" y="344.42" width="11.1" height="6.29" fill="rgb(62,48,139)"/><rect x="1341.4" y="338.43" width="11.1" height="6.29" fill="rgb(63,54,146)"/><rect x="1341.4" y="332.44" width="11.1" height="6.29" fill="rgb(64,67,157)"/><rect x="1341.4" y="326.45" width="11.1" height="6.29" fill="rgb(65,82,168)"/><rect x="1341.4" y="320.46" width="11.1" height="6.29" fill="rgb(67,98,178)"/><rect x="1341.4" y="314.48" width="11.1" height="6.29" fill="rgb(68,112,187)"/><rect x="1341.4" y="308.49" width="11.1" height="6.29" fill="rgb(69,125,196)"/><rect x="1341.4" y="302.50" width="11.1" height="6.29" fill="rgb(68,139,206)"/><rect x="1341.4" y="296.51" width="11.1" height="6.29" fill="rgb(56,154,218)"/><rect x="1341.4" y="290.52" width="11.1" height="6.29" fill="rgb(48,171,227)"/><rect x="1341.4" y="284.53" width="11.1" height="6.29" fill="rgb(70,189,229)"/><rect x="1341.4" y="278.54" width="11.1" height="6.29" fill="rgb(96,198,221)"/><rect x="1341.4" y="272.55" width="11.1" height="6.29" fill="rgb(113,202,212)"/><rect x="1341.4" y="266.56" width="11.1" height="6.29" fill="rgb(121,203,205)"/><rect x="1341.4" y="260.57" width="11.1" height="6.29" fill="rgb(125,203,197)"/><rect x="1341.4" y="254.58" width="11.1" height="6.29" fill="rgb(129,202,186)"/><rect x="1341.4" y="248.60" width="11.1" height="6.29" fill="rgb(132,201,175)"/><rect x="1341.4" y="242.61" width="11.1" height="6.29" fill="rgb(132,198,159)"/><rect x="1341.4" y="236.62" width="11.1" height="6.29" fill="rgb(132,196,145)"/><rect x="1341.4" y="230.63" width="11.1" height="6.29" fill="rgb(133,195,134)"/><rect x="1341.4" y="224.64" width="11.1" height="6.29" fill="rgb(136,195,123)"/><rect x="1341.4" y="218.65" width="11.1" height="6.29" fill="rgb(143,195,114)"/><rect x="1341.4" y="212.66" width="11.1" height="6.29" fill="rgb(152,197,103)"/><rect x="1341.4" y="206.67" width="11.1" height="6.29" fill="rgb(163,198,92)"/><rect x="1341.4" y="200.68" width="11.1" height="6.29" fill="rgb(175,201,81)"/><rect x="1341.4" y="194.69" width="11.1" height="6.29" fill="rgb(189,206,69)"/><rect x="1341.4" y="188.70" width="11.1" height="6.29" fill="rgb(205,211,56)"/><rect x="1341.4" y="182.72" width="11.1" height="6.29" fill="rgb(224,218,43)"/><rect x="1341.4" y="176.73" width="11.1" height="6.29" fill="rgb(241,226,32)"/><rect x="1341.4" y="170.74" width="11.1" height="6.29" fill="rgb(250,225,25)"/><rect x="1341.4" y="164.75" width="11.1" height="6.29" fill="rgb(252,216,25)"/><rect x="1341.4" y="158.76" width="11.1" height="6.29" fill="rgb(251,206,26)"/><rect x="1341.4" y="152.77" width="11.1" height="6.29" fill="rgb(250,195,27)"/><rect x="1341.4" y="146.78" width="11.1" height="6.29" fill="rgb(248,185,28)"/><rect x="1341.4" y="140.79" width="11.1" height="6.29" fill="rgb(247,175,28)"/><rect x="1341.4" y="134.80" width="11.1" height="6.29" fill="rgb(246,165,28)"/><rect x="1341.4" y="128.81" width="11.1" height="6.29" fill="rgb(245,156,28)"/><rect x="1341.4" y="122.82" width="11.1" height="6.29" fill="rgb(244,146,28)"/><rect x="1341.4" y="116.84" width="11.1" height="6.29" fill="rgb(242,133,28)"/><rect x="1341.4" y="110.85" width="11.1" height="6.29" fill="rgb(241,123,29)"/><rect x="1341.4" y="104.86" width="11.1" height="6.29" fill="rgb(239,113,30)"/><rect x="1341.4" y="98.87" width="11.1" height="6.29" fill="rgb(238,102,31)"/><rect x="1341.4" y="92.88" width="11.1" height="6.29" fill="rgb(237,92,33)"/><rect x="1341.4" y="86.89" width="11.1" height="6.29" fill="rgb(236,82,34)"/><rect x="1341.4" y="80.90" width="11.1" height="6.29" fill="rgb(234,73,35)"/><rect x="1341.4" y="74.91" width="11.1" height="6.29" fill="rgb(233,66,35)"/><rect x="1341.4" y="68.92" width="11.1" height="6.29" fill="rgb(232,60,35)"/><rect x="1341.4" y="62.93" width="11.1" height="6.29" fill="rgb(229,54,35)"/><rect x="1341.4" y="56.95" width="11.1" height="6.29" fill="rgb(227,49,35)"/><rect x="1341.4" y="50.96" width="11.1" height="6.29" fill="rgb(219,46,35)"/><rect x="1341.4" y="44.97" width="11.1" height="6.29" fill="rgb(204,43,35)"/><rect x="1341.4" y="38.98" width="11.1" height="6.29" fill="rgb(181,40,34)"/><rect x="1341.4" y="32.99" width="11.1" height="6.29" fill="rgb(156,37,31)"/><rect x="1341.4" y="27.00" width="11.1" height="6.29" fill="rgb(134,34,30)"/><rect x="1349.5" y="39.2" width="3" height="0.7" fill="#222" opacity="0.55"/><rect x="1349.5" y="85.2" width="3" height="0.7" fill="#222" opacity="0.55"/><rect x="1349.5" y="131.5" width="3" height="0.7" fill="#222" opacity="0.55"/><rect x="1349.5" y="177.8" width="3" height="0.7" fill="#222" opacity="0.55"/><rect x="1349.5" y="228.1" width="3" height="0.7" fill="#222" opacity="0.55"/><rect x="1349.5" y="271.7" width="3" height="0.7" fill="#222" opacity="0.55"/><rect x="1349.5" y="317.7" width="3" height="0.7" fill="#222" opacity="0.55"/><rect x="1349.5" y="364.6" width="3" height="0.7" fill="#222" opacity="0.55"/><rect x="1349.5" y="409.6" width="3" height="0.7" fill="#222" opacity="0.55"/><text x="1121.3" y="40.6" font-size="17.5" text-anchor="end">100</text><text x="1121.3" y="77.5" font-size="17.5" text-anchor="end">50</text><text x="1121.3" y="117.8" font-size="17.5" text-anchor="end">0</text><text x="1121.3" y="150.9" font-size="17.5" text-anchor="end">-50</text><text x="1122.4" y="190.8" font-size="17.5" text-anchor="end">-100</text><text x="1122.4" y="227.8" font-size="17.5" text-anchor="end">-150</text><text x="1122.4" y="267.1" font-size="17.5" text-anchor="end">-200</text><text x="1122.4" y="301.8" font-size="17.5" text-anchor="end">-250</text><text x="1122.4" y="338.4" font-size="17.5" text-anchor="end">-300</text><text x="1122.4" y="379.4" font-size="17.5" text-anchor="end">-350</text><text x="1123.5" y="416.1" font-size="17.5" text-anchor="end">-400</text><text x="1127.9" y="430.4" font-size="17.5" text-anchor="middle">0</text><text x="1161.2" y="427.8" font-size="17.5" text-anchor="middle">50</text><text x="1201.4" y="427.8" font-size="17.5" text-anchor="middle">100</text><text x="1237" y="427.8" font-size="17.5" text-anchor="middle">150</text><text x="1272.3" y="427.8" font-size="17.5" text-anchor="middle">200</text><text x="1311" y="427.8" font-size="17.5" text-anchor="middle">250</text><text x="1216.4" y="452.5" font-size="21.5" text-anchor="middle">r [µm]</text><text x="1079.2" y="222.3" font-size="21.5" text-anchor="middle" transform="rotate(-90 1079.2 222.3)">z [µm]</text><path d="M1122.7,25.9L1121.9,32.5" stroke="#2a2a2a" stroke-width="0.8" opacity="0.85" fill="none"/><path d="M1122.7,62.8L1121.9,69.2" stroke="#2a2a2a" stroke-width="0.8" opacity="0.85" fill="none"/><path d="M1122.7,103L1121.9,109.5" stroke="#2a2a2a" stroke-width="0.8" opacity="0.85" fill="none"/><path d="M1122.7,136.2L1121.9,142.8" stroke="#2a2a2a" stroke-width="0.8" opacity="0.85" fill="none"/><text x="1145" y="15.5" font-size="21.8">CH target</text><text x="1337" y="18" font-size="22.5" font-weight="bold">d)</text><text x="1354.5" y="45.8" font-size="17.5">16</text><text x="1354.5" y="91.8" font-size="17.5">14</text><text x="1354.5" y="138.1" font-size="17.5">12</text><text x="1354.5" y="184.3" font-size="17.5">10</text><text x="1354.5" y="234.7" font-size="17.5">8</text><text x="1354.5" y="278.2" font-size="17.5">6</text><text x="1354.5" y="324.2" font-size="17.5">4</text><text x="1354.5" y="371.1" font-size="17.5">2</text><text x="1354.5" y="416.1" font-size="17.5">0</text><text x="1396.5" y="216" font-size="21.5" text-anchor="middle" transform="rotate(-90 1396.5 216)">pressure, Mbar</text></g>
</svg></body></html>
